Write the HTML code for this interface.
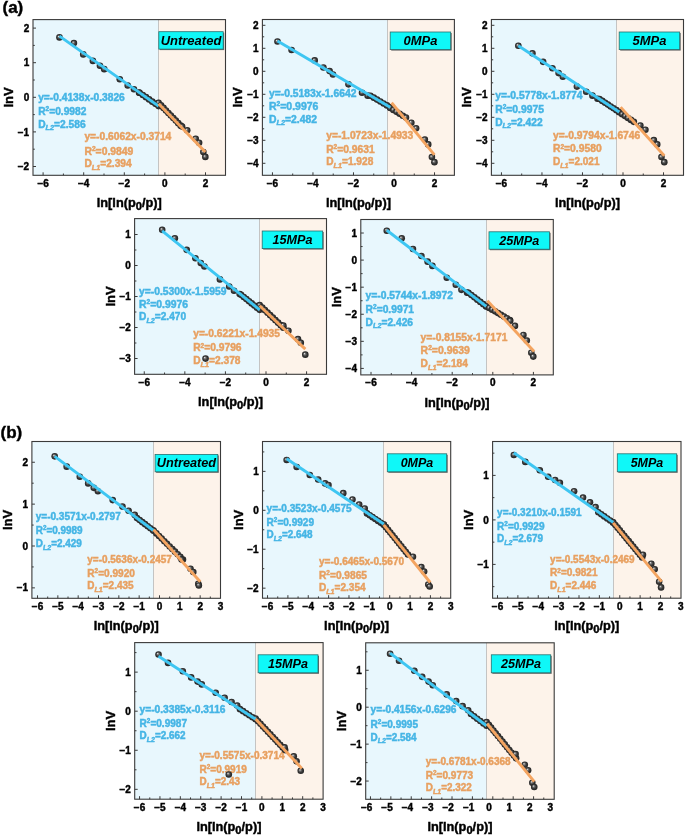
<!DOCTYPE html>
<html><head><meta charset="utf-8"><style>html,body{margin:0;padding:0;background:#fff;overflow:hidden}svg{display:block;filter:blur(0.3px)}.k{stroke:#000;stroke-width:0.42px}</style></head>
<body><svg width="685" height="836" viewBox="0 0 685 836" font-family='"Liberation Sans", sans-serif'>
<defs><radialGradient id="sph" cx="0.5" cy="0.5" r="0.5" fx="0.36" fy="0.34"><stop offset="0" stop-color="#f2f2f2"/><stop offset="0.28" stop-color="#777"/><stop offset="0.6" stop-color="#3a3a3a"/><stop offset="1" stop-color="#222"/></radialGradient></defs>
<rect width="685" height="836" fill="#fff"/>
<text x="2.5" y="13.2" font-size="17" font-weight="bold" class="k">(a)</text>
<text x="0.5" y="437.5" font-size="17" font-weight="bold" class="k">(b)</text>
<rect x="33" y="19.6" width="125.50" height="155.70" fill="#e8f7fd"/>
<rect x="158.50" y="19.6" width="67.00" height="155.70" fill="#fdf3ea"/>
<line x1="158.50" y1="19.6" x2="158.50" y2="175.3" stroke="#bdbdbd" stroke-width="0.9"/>
<line x1="43.10" y1="175.3" x2="43.10" y2="172.3" stroke="#3a3a3a" stroke-width="1"/>
<line x1="83.70" y1="175.3" x2="83.70" y2="172.3" stroke="#3a3a3a" stroke-width="1"/>
<line x1="124.30" y1="175.3" x2="124.30" y2="172.3" stroke="#3a3a3a" stroke-width="1"/>
<line x1="164.90" y1="175.3" x2="164.90" y2="172.3" stroke="#3a3a3a" stroke-width="1"/>
<line x1="205.50" y1="175.3" x2="205.50" y2="172.3" stroke="#3a3a3a" stroke-width="1"/>
<text x="43.10" y="186.80" text-anchor="middle" font-size="10" font-weight="bold" class="k">−6</text>
<text x="83.70" y="186.80" text-anchor="middle" font-size="10" font-weight="bold" class="k">−4</text>
<text x="124.30" y="186.80" text-anchor="middle" font-size="10" font-weight="bold" class="k">−2</text>
<text x="164.90" y="186.80" text-anchor="middle" font-size="10" font-weight="bold" class="k">0</text>
<text x="205.50" y="186.80" text-anchor="middle" font-size="10" font-weight="bold" class="k">2</text>
<line x1="63.40" y1="175.3" x2="63.40" y2="173.5" stroke="#3a3a3a" stroke-width="1"/>
<line x1="104.00" y1="175.3" x2="104.00" y2="173.5" stroke="#3a3a3a" stroke-width="1"/>
<line x1="144.60" y1="175.3" x2="144.60" y2="173.5" stroke="#3a3a3a" stroke-width="1"/>
<line x1="185.20" y1="175.3" x2="185.20" y2="173.5" stroke="#3a3a3a" stroke-width="1"/>
<line x1="33" y1="166.50" x2="36" y2="166.50" stroke="#3a3a3a" stroke-width="1"/>
<text x="29.20" y="170.10" text-anchor="end" font-size="10" font-weight="bold" class="k">−2</text>
<line x1="33" y1="131.90" x2="36" y2="131.90" stroke="#3a3a3a" stroke-width="1"/>
<text x="29.20" y="135.50" text-anchor="end" font-size="10" font-weight="bold" class="k">−1</text>
<line x1="33" y1="97.30" x2="36" y2="97.30" stroke="#3a3a3a" stroke-width="1"/>
<text x="29.20" y="100.90" text-anchor="end" font-size="10" font-weight="bold" class="k">0</text>
<line x1="33" y1="62.70" x2="36" y2="62.70" stroke="#3a3a3a" stroke-width="1"/>
<text x="29.20" y="66.30" text-anchor="end" font-size="10" font-weight="bold" class="k">1</text>
<line x1="33" y1="28.10" x2="36" y2="28.10" stroke="#3a3a3a" stroke-width="1"/>
<text x="29.20" y="31.70" text-anchor="end" font-size="10" font-weight="bold" class="k">2</text>
<line x1="33" y1="149.20" x2="34.8" y2="149.20" stroke="#3a3a3a" stroke-width="1"/>
<line x1="33" y1="114.60" x2="34.8" y2="114.60" stroke="#3a3a3a" stroke-width="1"/>
<line x1="33" y1="80.00" x2="34.8" y2="80.00" stroke="#3a3a3a" stroke-width="1"/>
<line x1="33" y1="45.40" x2="34.8" y2="45.40" stroke="#3a3a3a" stroke-width="1"/>
<text x="38.20" y="101.30" fill="#45b5e5" stroke="#45b5e5" stroke-width="0.45" font-size="10.1" font-weight="bold" textLength="86.6" lengthAdjust="spacingAndGlyphs">y=-0.4138x-0.3826</text>
<text x="38.20" y="115.00" fill="#45b5e5" stroke="#45b5e5" stroke-width="0.45" font-size="10.1" font-weight="bold" textLength="48.2" lengthAdjust="spacingAndGlyphs">R<tspan dy="-3.9" font-size="6.4">2</tspan><tspan dy="3.9">=0.9982</tspan></text>
<text x="38.20" y="127.80" fill="#45b5e5" stroke="#45b5e5" stroke-width="0.45" font-size="10.1" font-weight="bold" textLength="47.5" lengthAdjust="spacingAndGlyphs">D<tspan dy="2.6" font-size="7.2" font-style="italic">L2</tspan><tspan dy="-2.6">=2.586</tspan></text>
<text x="84.40" y="140.40" fill="#e8a060" stroke="#e8a060" stroke-width="0.45" font-size="10.1" font-weight="bold" textLength="86.9" lengthAdjust="spacingAndGlyphs">y=-0.6062x-0.3714</text>
<text x="84.40" y="154.50" fill="#e8a060" stroke="#e8a060" stroke-width="0.45" font-size="10.1" font-weight="bold" textLength="49.0" lengthAdjust="spacingAndGlyphs">R<tspan dy="-3.9" font-size="6.4">2</tspan><tspan dy="3.9">=0.9849</tspan></text>
<text x="84.40" y="167.30" fill="#e8a060" stroke="#e8a060" stroke-width="0.45" font-size="10.1" font-weight="bold" textLength="47.3" lengthAdjust="spacingAndGlyphs">D<tspan dy="2.6" font-size="7.2" font-style="italic">L1</tspan><tspan dy="-2.6">=2.394</tspan></text>
<circle cx="59.47" cy="37.41" r="3.3" fill="url(#sph)"/>
<circle cx="73.92" cy="43.07" r="3.3" fill="url(#sph)"/>
<circle cx="83.26" cy="54.40" r="3.3" fill="url(#sph)"/>
<circle cx="92.89" cy="60.92" r="3.3" fill="url(#sph)"/>
<circle cx="99.97" cy="65.73" r="3.3" fill="url(#sph)"/>
<circle cx="104.22" cy="69.13" r="3.3" fill="url(#sph)"/>
<circle cx="119.80" cy="79.32" r="3.3" fill="url(#sph)"/>
<circle cx="127.73" cy="85.55" r="3.3" fill="url(#sph)"/>
<circle cx="133.96" cy="89.24" r="3.3" fill="url(#sph)"/>
<circle cx="139.05" cy="92.64" r="3.3" fill="url(#sph)"/>
<circle cx="139.62" cy="92.71" r="3.3" fill="url(#sph)"/>
<circle cx="142.78" cy="94.94" r="3.3" fill="url(#sph)"/>
<circle cx="145.95" cy="97.17" r="3.3" fill="url(#sph)"/>
<circle cx="149.11" cy="99.40" r="3.3" fill="url(#sph)"/>
<circle cx="152.27" cy="101.63" r="3.3" fill="url(#sph)"/>
<circle cx="155.43" cy="103.86" r="3.3" fill="url(#sph)"/>
<circle cx="158.60" cy="106.09" r="3.3" fill="url(#sph)"/>
<circle cx="158.60" cy="102.84" r="3.3" fill="url(#sph)"/>
<circle cx="161.05" cy="105.37" r="3.3" fill="url(#sph)"/>
<circle cx="163.50" cy="107.91" r="3.3" fill="url(#sph)"/>
<circle cx="165.96" cy="110.44" r="3.3" fill="url(#sph)"/>
<circle cx="168.41" cy="112.98" r="3.3" fill="url(#sph)"/>
<circle cx="170.87" cy="115.52" r="3.3" fill="url(#sph)"/>
<circle cx="173.32" cy="118.05" r="3.3" fill="url(#sph)"/>
<circle cx="175.78" cy="120.59" r="3.3" fill="url(#sph)"/>
<circle cx="178.23" cy="123.13" r="3.3" fill="url(#sph)"/>
<circle cx="180.69" cy="125.66" r="3.3" fill="url(#sph)"/>
<circle cx="182.10" cy="126.62" r="3.3" fill="url(#sph)"/>
<circle cx="187.20" cy="130.30" r="3.3" fill="url(#sph)"/>
<circle cx="195.70" cy="138.80" r="3.3" fill="url(#sph)"/>
<circle cx="199.09" cy="142.76" r="3.3" fill="url(#sph)"/>
<circle cx="203.34" cy="152.11" r="3.3" fill="url(#sph)"/>
<circle cx="205.33" cy="156.92" r="3.3" fill="url(#sph)"/>
<line x1="59.47" y1="36.18" x2="158.60" y2="106.09" stroke="#3ec6f2" stroke-width="2.9"/>
<line x1="158.60" y1="103.64" x2="205.33" y2="151.92" stroke="#f4a460" stroke-width="2.9"/>
<rect x="159.80" y="32.70" width="64.40" height="17.40" fill="#666"/>
<rect x="158.80" y="31.70" width="64.40" height="17.40" fill="#0ff8f8" stroke="#2a6f6f" stroke-width="0.8"/>
<text x="191.00" y="44.60" text-anchor="middle" font-size="12" font-weight="bold" font-style="italic" textLength="60.7" lengthAdjust="spacingAndGlyphs">Untreated</text>
<rect x="33" y="19.6" width="192.50" height="155.70" fill="none" stroke="#3a3a3a" stroke-width="1.1"/>
<text transform="translate(13.00,97.45) rotate(-90)" text-anchor="middle" font-size="13" font-weight="bold" class="k">lnV</text>
<text x="129.25" y="207.10" text-anchor="middle" font-size="12" font-weight="bold" class="k" textLength="65" lengthAdjust="spacingAndGlyphs">ln[ln(p<tspan dy="3.0" font-size="10.5">0</tspan><tspan dy="-3.0">/p)]</tspan></text>
<rect x="262.4" y="19.5" width="125.10" height="155.80" fill="#e8f7fd"/>
<rect x="387.50" y="19.5" width="66.90" height="155.80" fill="#fdf3ea"/>
<line x1="387.50" y1="19.5" x2="387.50" y2="175.3" stroke="#bdbdbd" stroke-width="0.9"/>
<line x1="272.44" y1="175.3" x2="272.44" y2="172.3" stroke="#3a3a3a" stroke-width="1"/>
<line x1="312.96" y1="175.3" x2="312.96" y2="172.3" stroke="#3a3a3a" stroke-width="1"/>
<line x1="353.48" y1="175.3" x2="353.48" y2="172.3" stroke="#3a3a3a" stroke-width="1"/>
<line x1="394.00" y1="175.3" x2="394.00" y2="172.3" stroke="#3a3a3a" stroke-width="1"/>
<line x1="434.52" y1="175.3" x2="434.52" y2="172.3" stroke="#3a3a3a" stroke-width="1"/>
<text x="272.44" y="186.80" text-anchor="middle" font-size="10" font-weight="bold" class="k">−6</text>
<text x="312.96" y="186.80" text-anchor="middle" font-size="10" font-weight="bold" class="k">−4</text>
<text x="353.48" y="186.80" text-anchor="middle" font-size="10" font-weight="bold" class="k">−2</text>
<text x="394.00" y="186.80" text-anchor="middle" font-size="10" font-weight="bold" class="k">0</text>
<text x="434.52" y="186.80" text-anchor="middle" font-size="10" font-weight="bold" class="k">2</text>
<line x1="292.70" y1="175.3" x2="292.70" y2="173.5" stroke="#3a3a3a" stroke-width="1"/>
<line x1="333.22" y1="175.3" x2="333.22" y2="173.5" stroke="#3a3a3a" stroke-width="1"/>
<line x1="373.74" y1="175.3" x2="373.74" y2="173.5" stroke="#3a3a3a" stroke-width="1"/>
<line x1="414.26" y1="175.3" x2="414.26" y2="173.5" stroke="#3a3a3a" stroke-width="1"/>
<line x1="262.4" y1="163.30" x2="265.4" y2="163.30" stroke="#3a3a3a" stroke-width="1"/>
<text x="258.60" y="166.90" text-anchor="end" font-size="10" font-weight="bold" class="k">−4</text>
<line x1="262.4" y1="140.30" x2="265.4" y2="140.30" stroke="#3a3a3a" stroke-width="1"/>
<text x="258.60" y="143.90" text-anchor="end" font-size="10" font-weight="bold" class="k">−3</text>
<line x1="262.4" y1="117.30" x2="265.4" y2="117.30" stroke="#3a3a3a" stroke-width="1"/>
<text x="258.60" y="120.90" text-anchor="end" font-size="10" font-weight="bold" class="k">−2</text>
<line x1="262.4" y1="94.30" x2="265.4" y2="94.30" stroke="#3a3a3a" stroke-width="1"/>
<text x="258.60" y="97.90" text-anchor="end" font-size="10" font-weight="bold" class="k">−1</text>
<line x1="262.4" y1="71.30" x2="265.4" y2="71.30" stroke="#3a3a3a" stroke-width="1"/>
<text x="258.60" y="74.90" text-anchor="end" font-size="10" font-weight="bold" class="k">0</text>
<line x1="262.4" y1="48.30" x2="265.4" y2="48.30" stroke="#3a3a3a" stroke-width="1"/>
<text x="258.60" y="51.90" text-anchor="end" font-size="10" font-weight="bold" class="k">1</text>
<line x1="262.4" y1="25.30" x2="265.4" y2="25.30" stroke="#3a3a3a" stroke-width="1"/>
<text x="258.60" y="28.90" text-anchor="end" font-size="10" font-weight="bold" class="k">2</text>
<line x1="262.4" y1="151.80" x2="264.2" y2="151.80" stroke="#3a3a3a" stroke-width="1"/>
<line x1="262.4" y1="128.80" x2="264.2" y2="128.80" stroke="#3a3a3a" stroke-width="1"/>
<line x1="262.4" y1="105.80" x2="264.2" y2="105.80" stroke="#3a3a3a" stroke-width="1"/>
<line x1="262.4" y1="82.80" x2="264.2" y2="82.80" stroke="#3a3a3a" stroke-width="1"/>
<line x1="262.4" y1="59.80" x2="264.2" y2="59.80" stroke="#3a3a3a" stroke-width="1"/>
<line x1="262.4" y1="36.80" x2="264.2" y2="36.80" stroke="#3a3a3a" stroke-width="1"/>
<text x="269.00" y="96.60" fill="#45b5e5" stroke="#45b5e5" stroke-width="0.45" font-size="10.1" font-weight="bold" textLength="87.4" lengthAdjust="spacingAndGlyphs">y=-0.5183x-1.6642</text>
<text x="269.00" y="110.20" fill="#45b5e5" stroke="#45b5e5" stroke-width="0.45" font-size="10.1" font-weight="bold" textLength="49.4" lengthAdjust="spacingAndGlyphs">R<tspan dy="-3.9" font-size="6.4">2</tspan><tspan dy="3.9">=0.9976</tspan></text>
<text x="269.00" y="122.80" fill="#45b5e5" stroke="#45b5e5" stroke-width="0.45" font-size="10.1" font-weight="bold" textLength="48.0" lengthAdjust="spacingAndGlyphs">D<tspan dy="2.6" font-size="7.2" font-style="italic">L2</tspan><tspan dy="-2.6">=2.482</tspan></text>
<text x="326.20" y="138.90" fill="#e8a060" stroke="#e8a060" stroke-width="0.45" font-size="10.1" font-weight="bold" textLength="87.1" lengthAdjust="spacingAndGlyphs">y=-1.0723x-1.4933</text>
<text x="326.20" y="153.00" fill="#e8a060" stroke="#e8a060" stroke-width="0.45" font-size="10.1" font-weight="bold" textLength="48.5" lengthAdjust="spacingAndGlyphs">R<tspan dy="-3.9" font-size="6.4">2</tspan><tspan dy="3.9">=0.9631</tspan></text>
<text x="326.20" y="165.10" fill="#e8a060" stroke="#e8a060" stroke-width="0.45" font-size="10.1" font-weight="bold" textLength="47.1" lengthAdjust="spacingAndGlyphs">D<tspan dy="2.6" font-size="7.2" font-style="italic">L1</tspan><tspan dy="-2.6">=1.928</tspan></text>
<circle cx="277.50" cy="41.54" r="3.3" fill="url(#sph)"/>
<circle cx="291.58" cy="49.99" r="3.3" fill="url(#sph)"/>
<circle cx="314.69" cy="60.42" r="3.3" fill="url(#sph)"/>
<circle cx="323.42" cy="67.46" r="3.3" fill="url(#sph)"/>
<circle cx="329.62" cy="71.12" r="3.3" fill="url(#sph)"/>
<circle cx="333.00" cy="74.51" r="3.3" fill="url(#sph)"/>
<circle cx="348.50" cy="84.37" r="3.3" fill="url(#sph)"/>
<circle cx="362.02" cy="92.82" r="3.3" fill="url(#sph)"/>
<circle cx="367.66" cy="95.64" r="3.3" fill="url(#sph)"/>
<circle cx="370.47" cy="95.73" r="3.3" fill="url(#sph)"/>
<circle cx="373.76" cy="97.67" r="3.3" fill="url(#sph)"/>
<circle cx="377.05" cy="99.60" r="3.3" fill="url(#sph)"/>
<circle cx="380.34" cy="101.54" r="3.3" fill="url(#sph)"/>
<circle cx="383.62" cy="103.47" r="3.3" fill="url(#sph)"/>
<circle cx="386.91" cy="105.40" r="3.3" fill="url(#sph)"/>
<circle cx="390.20" cy="107.34" r="3.3" fill="url(#sph)"/>
<circle cx="390.20" cy="108.03" r="3.3" fill="url(#sph)"/>
<circle cx="393.35" cy="109.95" r="3.3" fill="url(#sph)"/>
<circle cx="396.51" cy="111.87" r="3.3" fill="url(#sph)"/>
<circle cx="399.66" cy="113.78" r="3.3" fill="url(#sph)"/>
<circle cx="402.82" cy="115.70" r="3.3" fill="url(#sph)"/>
<circle cx="405.98" cy="117.61" r="3.3" fill="url(#sph)"/>
<circle cx="411.33" cy="122.68" r="3.3" fill="url(#sph)"/>
<circle cx="416.12" cy="128.32" r="3.3" fill="url(#sph)"/>
<circle cx="424.85" cy="139.59" r="3.3" fill="url(#sph)"/>
<circle cx="428.23" cy="144.38" r="3.3" fill="url(#sph)"/>
<circle cx="431.90" cy="157.06" r="3.3" fill="url(#sph)"/>
<circle cx="434.43" cy="162.13" r="3.3" fill="url(#sph)"/>
<line x1="277.50" y1="41.03" x2="390.20" y2="107.34" stroke="#3ec6f2" stroke-width="2.9"/>
<line x1="391.61" y1="102.73" x2="434.43" y2="154.86" stroke="#f4a460" stroke-width="2.9"/>
<rect x="391.20" y="33.00" width="60.50" height="17.60" fill="#666"/>
<rect x="390.20" y="32.00" width="60.50" height="17.60" fill="#0ff8f8" stroke="#2a6f6f" stroke-width="0.8"/>
<text x="420.45" y="45.00" text-anchor="middle" font-size="12" font-weight="bold" font-style="italic" textLength="33.8" lengthAdjust="spacingAndGlyphs">0MPa</text>
<rect x="262.4" y="19.5" width="192.00" height="155.80" fill="none" stroke="#3a3a3a" stroke-width="1.1"/>
<text transform="translate(242.40,97.40) rotate(-90)" text-anchor="middle" font-size="13" font-weight="bold" class="k">lnV</text>
<text x="358.40" y="207.10" text-anchor="middle" font-size="12" font-weight="bold" class="k" textLength="65" lengthAdjust="spacingAndGlyphs">ln[ln(p<tspan dy="3.0" font-size="10.5">0</tspan><tspan dy="-3.0">/p)]</tspan></text>
<rect x="491.4" y="19.5" width="125.10" height="155.80" fill="#e8f7fd"/>
<rect x="616.50" y="19.5" width="67.00" height="155.80" fill="#fdf3ea"/>
<line x1="616.50" y1="19.5" x2="616.50" y2="175.3" stroke="#bdbdbd" stroke-width="0.9"/>
<line x1="501.44" y1="175.3" x2="501.44" y2="172.3" stroke="#3a3a3a" stroke-width="1"/>
<line x1="541.96" y1="175.3" x2="541.96" y2="172.3" stroke="#3a3a3a" stroke-width="1"/>
<line x1="582.48" y1="175.3" x2="582.48" y2="172.3" stroke="#3a3a3a" stroke-width="1"/>
<line x1="623.00" y1="175.3" x2="623.00" y2="172.3" stroke="#3a3a3a" stroke-width="1"/>
<line x1="663.52" y1="175.3" x2="663.52" y2="172.3" stroke="#3a3a3a" stroke-width="1"/>
<text x="501.44" y="186.80" text-anchor="middle" font-size="10" font-weight="bold" class="k">−6</text>
<text x="541.96" y="186.80" text-anchor="middle" font-size="10" font-weight="bold" class="k">−4</text>
<text x="582.48" y="186.80" text-anchor="middle" font-size="10" font-weight="bold" class="k">−2</text>
<text x="623.00" y="186.80" text-anchor="middle" font-size="10" font-weight="bold" class="k">0</text>
<text x="663.52" y="186.80" text-anchor="middle" font-size="10" font-weight="bold" class="k">2</text>
<line x1="521.70" y1="175.3" x2="521.70" y2="173.5" stroke="#3a3a3a" stroke-width="1"/>
<line x1="562.22" y1="175.3" x2="562.22" y2="173.5" stroke="#3a3a3a" stroke-width="1"/>
<line x1="602.74" y1="175.3" x2="602.74" y2="173.5" stroke="#3a3a3a" stroke-width="1"/>
<line x1="643.26" y1="175.3" x2="643.26" y2="173.5" stroke="#3a3a3a" stroke-width="1"/>
<line x1="491.4" y1="163.30" x2="494.4" y2="163.30" stroke="#3a3a3a" stroke-width="1"/>
<text x="487.60" y="166.90" text-anchor="end" font-size="10" font-weight="bold" class="k">−4</text>
<line x1="491.4" y1="140.30" x2="494.4" y2="140.30" stroke="#3a3a3a" stroke-width="1"/>
<text x="487.60" y="143.90" text-anchor="end" font-size="10" font-weight="bold" class="k">−3</text>
<line x1="491.4" y1="117.30" x2="494.4" y2="117.30" stroke="#3a3a3a" stroke-width="1"/>
<text x="487.60" y="120.90" text-anchor="end" font-size="10" font-weight="bold" class="k">−2</text>
<line x1="491.4" y1="94.30" x2="494.4" y2="94.30" stroke="#3a3a3a" stroke-width="1"/>
<text x="487.60" y="97.90" text-anchor="end" font-size="10" font-weight="bold" class="k">−1</text>
<line x1="491.4" y1="71.30" x2="494.4" y2="71.30" stroke="#3a3a3a" stroke-width="1"/>
<text x="487.60" y="74.90" text-anchor="end" font-size="10" font-weight="bold" class="k">0</text>
<line x1="491.4" y1="48.30" x2="494.4" y2="48.30" stroke="#3a3a3a" stroke-width="1"/>
<text x="487.60" y="51.90" text-anchor="end" font-size="10" font-weight="bold" class="k">1</text>
<line x1="491.4" y1="25.30" x2="494.4" y2="25.30" stroke="#3a3a3a" stroke-width="1"/>
<text x="487.60" y="28.90" text-anchor="end" font-size="10" font-weight="bold" class="k">2</text>
<line x1="491.4" y1="151.80" x2="493.2" y2="151.80" stroke="#3a3a3a" stroke-width="1"/>
<line x1="491.4" y1="128.80" x2="493.2" y2="128.80" stroke="#3a3a3a" stroke-width="1"/>
<line x1="491.4" y1="105.80" x2="493.2" y2="105.80" stroke="#3a3a3a" stroke-width="1"/>
<line x1="491.4" y1="82.80" x2="493.2" y2="82.80" stroke="#3a3a3a" stroke-width="1"/>
<line x1="491.4" y1="59.80" x2="493.2" y2="59.80" stroke="#3a3a3a" stroke-width="1"/>
<line x1="491.4" y1="36.80" x2="493.2" y2="36.80" stroke="#3a3a3a" stroke-width="1"/>
<text x="495.20" y="98.90" fill="#45b5e5" stroke="#45b5e5" stroke-width="0.45" font-size="10.1" font-weight="bold" textLength="87.4" lengthAdjust="spacingAndGlyphs">y=-0.5778x-1.8774</text>
<text x="495.20" y="113.00" fill="#45b5e5" stroke="#45b5e5" stroke-width="0.45" font-size="10.1" font-weight="bold" textLength="48.8" lengthAdjust="spacingAndGlyphs">R<tspan dy="-3.9" font-size="6.4">2</tspan><tspan dy="3.9">=0.9975</tspan></text>
<text x="495.20" y="125.70" fill="#45b5e5" stroke="#45b5e5" stroke-width="0.45" font-size="10.1" font-weight="bold" textLength="47.4" lengthAdjust="spacingAndGlyphs">D<tspan dy="2.6" font-size="7.2" font-style="italic">L2</tspan><tspan dy="-2.6">=2.422</tspan></text>
<text x="553.00" y="138.90" fill="#e8a060" stroke="#e8a060" stroke-width="0.45" font-size="10.1" font-weight="bold" textLength="87.3" lengthAdjust="spacingAndGlyphs">y=-0.9794x-1.6746</text>
<text x="553.00" y="152.40" fill="#e8a060" stroke="#e8a060" stroke-width="0.45" font-size="10.1" font-weight="bold" textLength="48.7" lengthAdjust="spacingAndGlyphs">R<tspan dy="-3.9" font-size="6.4">2</tspan><tspan dy="3.9">=0.9580</tspan></text>
<text x="553.00" y="165.10" fill="#e8a060" stroke="#e8a060" stroke-width="0.45" font-size="10.1" font-weight="bold" textLength="46.5" lengthAdjust="spacingAndGlyphs">D<tspan dy="2.6" font-size="7.2" font-style="italic">L1</tspan><tspan dy="-2.6">=2.021</tspan></text>
<circle cx="518.33" cy="45.77" r="3.3" fill="url(#sph)"/>
<circle cx="532.42" cy="53.37" r="3.3" fill="url(#sph)"/>
<circle cx="543.12" cy="61.83" r="3.3" fill="url(#sph)"/>
<circle cx="552.42" cy="68.31" r="3.3" fill="url(#sph)"/>
<circle cx="558.62" cy="73.10" r="3.3" fill="url(#sph)"/>
<circle cx="562.85" cy="76.76" r="3.3" fill="url(#sph)"/>
<circle cx="576.93" cy="86.62" r="3.3" fill="url(#sph)"/>
<circle cx="586.23" cy="91.69" r="3.3" fill="url(#sph)"/>
<circle cx="592.43" cy="95.64" r="3.3" fill="url(#sph)"/>
<circle cx="597.50" cy="98.74" r="3.3" fill="url(#sph)"/>
<circle cx="599.47" cy="99.05" r="3.3" fill="url(#sph)"/>
<circle cx="602.29" cy="100.90" r="3.3" fill="url(#sph)"/>
<circle cx="605.11" cy="102.75" r="3.3" fill="url(#sph)"/>
<circle cx="607.93" cy="104.59" r="3.3" fill="url(#sph)"/>
<circle cx="610.74" cy="106.44" r="3.3" fill="url(#sph)"/>
<circle cx="613.56" cy="108.29" r="3.3" fill="url(#sph)"/>
<circle cx="616.38" cy="110.14" r="3.3" fill="url(#sph)"/>
<circle cx="619.20" cy="111.99" r="3.3" fill="url(#sph)"/>
<circle cx="619.20" cy="112.26" r="3.3" fill="url(#sph)"/>
<circle cx="622.13" cy="114.18" r="3.3" fill="url(#sph)"/>
<circle cx="625.06" cy="116.09" r="3.3" fill="url(#sph)"/>
<circle cx="627.99" cy="118.01" r="3.3" fill="url(#sph)"/>
<circle cx="630.92" cy="119.92" r="3.3" fill="url(#sph)"/>
<circle cx="633.85" cy="121.84" r="3.3" fill="url(#sph)"/>
<circle cx="640.33" cy="125.50" r="3.3" fill="url(#sph)"/>
<circle cx="645.40" cy="129.73" r="3.3" fill="url(#sph)"/>
<circle cx="653.85" cy="140.15" r="3.3" fill="url(#sph)"/>
<circle cx="657.23" cy="144.38" r="3.3" fill="url(#sph)"/>
<circle cx="661.46" cy="157.06" r="3.3" fill="url(#sph)"/>
<circle cx="664.28" cy="162.13" r="3.3" fill="url(#sph)"/>
<line x1="518.33" y1="45.82" x2="619.20" y2="111.99" stroke="#3ec6f2" stroke-width="2.9"/>
<line x1="620.61" y1="107.15" x2="664.28" y2="155.71" stroke="#f4a460" stroke-width="2.9"/>
<rect x="620.20" y="33.00" width="60.50" height="17.60" fill="#666"/>
<rect x="619.20" y="32.00" width="60.50" height="17.60" fill="#0ff8f8" stroke="#2a6f6f" stroke-width="0.8"/>
<text x="649.45" y="45.00" text-anchor="middle" font-size="12" font-weight="bold" font-style="italic" textLength="33.8" lengthAdjust="spacingAndGlyphs">5MPa</text>
<rect x="491.4" y="19.5" width="192.10" height="155.80" fill="none" stroke="#3a3a3a" stroke-width="1.1"/>
<text transform="translate(471.40,97.40) rotate(-90)" text-anchor="middle" font-size="13" font-weight="bold" class="k">lnV</text>
<text x="587.45" y="207.10" text-anchor="middle" font-size="12" font-weight="bold" class="k" textLength="65" lengthAdjust="spacingAndGlyphs">ln[ln(p<tspan dy="3.0" font-size="10.5">0</tspan><tspan dy="-3.0">/p)]</tspan></text>
<rect x="134.6" y="218.6" width="124.90" height="155.70" fill="#e8f7fd"/>
<rect x="259.50" y="218.6" width="67.00" height="155.70" fill="#fdf3ea"/>
<line x1="259.50" y1="218.6" x2="259.50" y2="374.3" stroke="#bdbdbd" stroke-width="0.9"/>
<line x1="144.26" y1="374.3" x2="144.26" y2="371.3" stroke="#3a3a3a" stroke-width="1"/>
<line x1="184.84" y1="374.3" x2="184.84" y2="371.3" stroke="#3a3a3a" stroke-width="1"/>
<line x1="225.42" y1="374.3" x2="225.42" y2="371.3" stroke="#3a3a3a" stroke-width="1"/>
<line x1="266.00" y1="374.3" x2="266.00" y2="371.3" stroke="#3a3a3a" stroke-width="1"/>
<line x1="306.58" y1="374.3" x2="306.58" y2="371.3" stroke="#3a3a3a" stroke-width="1"/>
<text x="144.26" y="385.80" text-anchor="middle" font-size="10" font-weight="bold" class="k">−6</text>
<text x="184.84" y="385.80" text-anchor="middle" font-size="10" font-weight="bold" class="k">−4</text>
<text x="225.42" y="385.80" text-anchor="middle" font-size="10" font-weight="bold" class="k">−2</text>
<text x="266.00" y="385.80" text-anchor="middle" font-size="10" font-weight="bold" class="k">0</text>
<text x="306.58" y="385.80" text-anchor="middle" font-size="10" font-weight="bold" class="k">2</text>
<line x1="164.55" y1="374.3" x2="164.55" y2="372.5" stroke="#3a3a3a" stroke-width="1"/>
<line x1="205.13" y1="374.3" x2="205.13" y2="372.5" stroke="#3a3a3a" stroke-width="1"/>
<line x1="245.71" y1="374.3" x2="245.71" y2="372.5" stroke="#3a3a3a" stroke-width="1"/>
<line x1="286.29" y1="374.3" x2="286.29" y2="372.5" stroke="#3a3a3a" stroke-width="1"/>
<line x1="134.6" y1="358.50" x2="137.6" y2="358.50" stroke="#3a3a3a" stroke-width="1"/>
<text x="130.80" y="362.10" text-anchor="end" font-size="10" font-weight="bold" class="k">−3</text>
<line x1="134.6" y1="327.50" x2="137.6" y2="327.50" stroke="#3a3a3a" stroke-width="1"/>
<text x="130.80" y="331.10" text-anchor="end" font-size="10" font-weight="bold" class="k">−2</text>
<line x1="134.6" y1="296.50" x2="137.6" y2="296.50" stroke="#3a3a3a" stroke-width="1"/>
<text x="130.80" y="300.10" text-anchor="end" font-size="10" font-weight="bold" class="k">−1</text>
<line x1="134.6" y1="265.50" x2="137.6" y2="265.50" stroke="#3a3a3a" stroke-width="1"/>
<text x="130.80" y="269.10" text-anchor="end" font-size="10" font-weight="bold" class="k">0</text>
<line x1="134.6" y1="234.50" x2="137.6" y2="234.50" stroke="#3a3a3a" stroke-width="1"/>
<text x="130.80" y="238.10" text-anchor="end" font-size="10" font-weight="bold" class="k">1</text>
<line x1="134.6" y1="343.00" x2="136.4" y2="343.00" stroke="#3a3a3a" stroke-width="1"/>
<line x1="134.6" y1="312.00" x2="136.4" y2="312.00" stroke="#3a3a3a" stroke-width="1"/>
<line x1="134.6" y1="281.00" x2="136.4" y2="281.00" stroke="#3a3a3a" stroke-width="1"/>
<line x1="134.6" y1="250.00" x2="136.4" y2="250.00" stroke="#3a3a3a" stroke-width="1"/>
<text x="139.10" y="294.50" fill="#45b5e5" stroke="#45b5e5" stroke-width="0.45" font-size="10.1" font-weight="bold" textLength="87.3" lengthAdjust="spacingAndGlyphs">y=-0.5300x-1.5959</text>
<text x="139.10" y="307.80" fill="#45b5e5" stroke="#45b5e5" stroke-width="0.45" font-size="10.1" font-weight="bold" textLength="49.0" lengthAdjust="spacingAndGlyphs">R<tspan dy="-3.9" font-size="6.4">2</tspan><tspan dy="3.9">=0.9976</tspan></text>
<text x="139.10" y="320.40" fill="#45b5e5" stroke="#45b5e5" stroke-width="0.45" font-size="10.1" font-weight="bold" textLength="47.0" lengthAdjust="spacingAndGlyphs">D<tspan dy="2.6" font-size="7.2" font-style="italic">L2</tspan><tspan dy="-2.6">=2.470</tspan></text>
<text x="193.20" y="337.30" fill="#e8a060" stroke="#e8a060" stroke-width="0.45" font-size="10.1" font-weight="bold" textLength="86.8" lengthAdjust="spacingAndGlyphs">y=-0.6221x-1.4935</text>
<text x="193.20" y="351.40" fill="#e8a060" stroke="#e8a060" stroke-width="0.45" font-size="10.1" font-weight="bold" textLength="48.4" lengthAdjust="spacingAndGlyphs">R<tspan dy="-3.9" font-size="6.4">2</tspan><tspan dy="3.9">=0.9796</tspan></text>
<text x="193.20" y="364.10" fill="#e8a060" stroke="#e8a060" stroke-width="0.45" font-size="10.1" font-weight="bold" textLength="47.3" lengthAdjust="spacingAndGlyphs">D<tspan dy="2.6" font-size="7.2" font-style="italic">L1</tspan><tspan dy="-2.6">=2.378</tspan></text>
<circle cx="162.18" cy="229.83" r="3.3" fill="url(#sph)"/>
<circle cx="174.85" cy="238.29" r="3.3" fill="url(#sph)"/>
<circle cx="186.69" cy="249.84" r="3.3" fill="url(#sph)"/>
<circle cx="195.42" cy="258.29" r="3.3" fill="url(#sph)"/>
<circle cx="200.78" cy="263.08" r="3.3" fill="url(#sph)"/>
<circle cx="204.44" cy="266.46" r="3.3" fill="url(#sph)"/>
<circle cx="219.93" cy="279.42" r="3.3" fill="url(#sph)"/>
<circle cx="229.23" cy="286.47" r="3.3" fill="url(#sph)"/>
<circle cx="234.02" cy="290.69" r="3.3" fill="url(#sph)"/>
<circle cx="239.66" cy="294.07" r="3.3" fill="url(#sph)"/>
<circle cx="241.07" cy="294.78" r="3.3" fill="url(#sph)"/>
<circle cx="243.72" cy="296.93" r="3.3" fill="url(#sph)"/>
<circle cx="246.38" cy="299.08" r="3.3" fill="url(#sph)"/>
<circle cx="249.04" cy="301.24" r="3.3" fill="url(#sph)"/>
<circle cx="251.69" cy="303.39" r="3.3" fill="url(#sph)"/>
<circle cx="254.35" cy="305.54" r="3.3" fill="url(#sph)"/>
<circle cx="257.00" cy="307.69" r="3.3" fill="url(#sph)"/>
<circle cx="259.66" cy="309.84" r="3.3" fill="url(#sph)"/>
<circle cx="259.66" cy="305.17" r="3.3" fill="url(#sph)"/>
<circle cx="262.29" cy="307.67" r="3.3" fill="url(#sph)"/>
<circle cx="264.92" cy="310.17" r="3.3" fill="url(#sph)"/>
<circle cx="267.55" cy="312.67" r="3.3" fill="url(#sph)"/>
<circle cx="270.18" cy="315.17" r="3.3" fill="url(#sph)"/>
<circle cx="272.81" cy="317.67" r="3.3" fill="url(#sph)"/>
<circle cx="275.44" cy="320.17" r="3.3" fill="url(#sph)"/>
<circle cx="278.07" cy="322.67" r="3.3" fill="url(#sph)"/>
<circle cx="280.70" cy="325.17" r="3.3" fill="url(#sph)"/>
<circle cx="283.33" cy="327.67" r="3.3" fill="url(#sph)"/>
<circle cx="283.33" cy="325.63" r="3.3" fill="url(#sph)"/>
<circle cx="288.40" cy="330.70" r="3.3" fill="url(#sph)"/>
<circle cx="297.98" cy="339.15" r="3.3" fill="url(#sph)"/>
<circle cx="300.80" cy="342.82" r="3.3" fill="url(#sph)"/>
<circle cx="305.31" cy="354.65" r="3.3" fill="url(#sph)"/>
<circle cx="205.56" cy="358.59" r="3.3" fill="url(#sph)"/>
<line x1="162.18" y1="230.90" x2="259.66" y2="309.84" stroke="#3ec6f2" stroke-width="2.9"/>
<line x1="259.66" y1="305.77" x2="305.31" y2="349.16" stroke="#f4a460" stroke-width="2.9"/>
<rect x="263.20" y="232.00" width="60.50" height="17.60" fill="#666"/>
<rect x="262.20" y="231.00" width="60.50" height="17.60" fill="#0ff8f8" stroke="#2a6f6f" stroke-width="0.8"/>
<text x="292.45" y="244.00" text-anchor="middle" font-size="12" font-weight="bold" font-style="italic" textLength="40.0" lengthAdjust="spacingAndGlyphs">15MPa</text>
<rect x="134.6" y="218.6" width="191.90" height="155.70" fill="none" stroke="#3a3a3a" stroke-width="1.1"/>
<text transform="translate(114.60,296.45) rotate(-90)" text-anchor="middle" font-size="13" font-weight="bold" class="k">lnV</text>
<text x="230.55" y="406.10" text-anchor="middle" font-size="12" font-weight="bold" class="k" textLength="65" lengthAdjust="spacingAndGlyphs">ln[ln(p<tspan dy="3.0" font-size="10.5">0</tspan><tspan dy="-3.0">/p)]</tspan></text>
<rect x="360.8" y="219.5" width="125.70" height="155.40" fill="#e8f7fd"/>
<rect x="486.50" y="219.5" width="66.80" height="155.40" fill="#fdf3ea"/>
<line x1="486.50" y1="219.5" x2="486.50" y2="374.9" stroke="#bdbdbd" stroke-width="0.9"/>
<line x1="371.00" y1="374.9" x2="371.00" y2="371.9" stroke="#3a3a3a" stroke-width="1"/>
<line x1="411.60" y1="374.9" x2="411.60" y2="371.9" stroke="#3a3a3a" stroke-width="1"/>
<line x1="452.20" y1="374.9" x2="452.20" y2="371.9" stroke="#3a3a3a" stroke-width="1"/>
<line x1="492.80" y1="374.9" x2="492.80" y2="371.9" stroke="#3a3a3a" stroke-width="1"/>
<line x1="533.40" y1="374.9" x2="533.40" y2="371.9" stroke="#3a3a3a" stroke-width="1"/>
<text x="371.00" y="386.40" text-anchor="middle" font-size="10" font-weight="bold" class="k">−6</text>
<text x="411.60" y="386.40" text-anchor="middle" font-size="10" font-weight="bold" class="k">−4</text>
<text x="452.20" y="386.40" text-anchor="middle" font-size="10" font-weight="bold" class="k">−2</text>
<text x="492.80" y="386.40" text-anchor="middle" font-size="10" font-weight="bold" class="k">0</text>
<text x="533.40" y="386.40" text-anchor="middle" font-size="10" font-weight="bold" class="k">2</text>
<line x1="391.30" y1="374.9" x2="391.30" y2="373.09999999999997" stroke="#3a3a3a" stroke-width="1"/>
<line x1="431.90" y1="374.9" x2="431.90" y2="373.09999999999997" stroke="#3a3a3a" stroke-width="1"/>
<line x1="472.50" y1="374.9" x2="472.50" y2="373.09999999999997" stroke="#3a3a3a" stroke-width="1"/>
<line x1="513.10" y1="374.9" x2="513.10" y2="373.09999999999997" stroke="#3a3a3a" stroke-width="1"/>
<line x1="360.8" y1="368.42" x2="363.8" y2="368.42" stroke="#3a3a3a" stroke-width="1"/>
<text x="357.00" y="372.02" text-anchor="end" font-size="10" font-weight="bold" class="k">−4</text>
<line x1="360.8" y1="341.34" x2="363.8" y2="341.34" stroke="#3a3a3a" stroke-width="1"/>
<text x="357.00" y="344.94" text-anchor="end" font-size="10" font-weight="bold" class="k">−3</text>
<line x1="360.8" y1="314.26" x2="363.8" y2="314.26" stroke="#3a3a3a" stroke-width="1"/>
<text x="357.00" y="317.86" text-anchor="end" font-size="10" font-weight="bold" class="k">−2</text>
<line x1="360.8" y1="287.18" x2="363.8" y2="287.18" stroke="#3a3a3a" stroke-width="1"/>
<text x="357.00" y="290.78" text-anchor="end" font-size="10" font-weight="bold" class="k">−1</text>
<line x1="360.8" y1="260.10" x2="363.8" y2="260.10" stroke="#3a3a3a" stroke-width="1"/>
<text x="357.00" y="263.70" text-anchor="end" font-size="10" font-weight="bold" class="k">0</text>
<line x1="360.8" y1="233.02" x2="363.8" y2="233.02" stroke="#3a3a3a" stroke-width="1"/>
<text x="357.00" y="236.62" text-anchor="end" font-size="10" font-weight="bold" class="k">1</text>
<line x1="360.8" y1="354.88" x2="362.6" y2="354.88" stroke="#3a3a3a" stroke-width="1"/>
<line x1="360.8" y1="327.80" x2="362.6" y2="327.80" stroke="#3a3a3a" stroke-width="1"/>
<line x1="360.8" y1="300.72" x2="362.6" y2="300.72" stroke="#3a3a3a" stroke-width="1"/>
<line x1="360.8" y1="273.64" x2="362.6" y2="273.64" stroke="#3a3a3a" stroke-width="1"/>
<line x1="360.8" y1="246.56" x2="362.6" y2="246.56" stroke="#3a3a3a" stroke-width="1"/>
<text x="365.60" y="299.30" fill="#45b5e5" stroke="#45b5e5" stroke-width="0.45" font-size="10.1" font-weight="bold" textLength="87.4" lengthAdjust="spacingAndGlyphs">y=-0.5744x-1.8972</text>
<text x="365.60" y="312.80" fill="#45b5e5" stroke="#45b5e5" stroke-width="0.45" font-size="10.1" font-weight="bold" textLength="48.5" lengthAdjust="spacingAndGlyphs">R<tspan dy="-3.9" font-size="6.4">2</tspan><tspan dy="3.9">=0.9971</tspan></text>
<text x="365.60" y="325.50" fill="#45b5e5" stroke="#45b5e5" stroke-width="0.45" font-size="10.1" font-weight="bold" textLength="47.4" lengthAdjust="spacingAndGlyphs">D<tspan dy="2.6" font-size="7.2" font-style="italic">L2</tspan><tspan dy="-2.6">=2.426</tspan></text>
<text x="420.60" y="340.70" fill="#e8a060" stroke="#e8a060" stroke-width="0.45" font-size="10.1" font-weight="bold" textLength="86.8" lengthAdjust="spacingAndGlyphs">y=-0.8155x-1.7171</text>
<text x="420.60" y="354.20" fill="#e8a060" stroke="#e8a060" stroke-width="0.45" font-size="10.1" font-weight="bold" textLength="49.3" lengthAdjust="spacingAndGlyphs">R<tspan dy="-3.9" font-size="6.4">2</tspan><tspan dy="3.9">=0.9639</tspan></text>
<text x="420.60" y="366.90" fill="#e8a060" stroke="#e8a060" stroke-width="0.45" font-size="10.1" font-weight="bold" textLength="47.3" lengthAdjust="spacingAndGlyphs">D<tspan dy="2.6" font-size="7.2" font-style="italic">L1</tspan><tspan dy="-2.6">=2.184</tspan></text>
<circle cx="386.77" cy="230.68" r="3.3" fill="url(#sph)"/>
<circle cx="401.70" cy="238.29" r="3.3" fill="url(#sph)"/>
<circle cx="412.97" cy="248.99" r="3.3" fill="url(#sph)"/>
<circle cx="421.42" cy="256.04" r="3.3" fill="url(#sph)"/>
<circle cx="427.62" cy="261.67" r="3.3" fill="url(#sph)"/>
<circle cx="432.41" cy="265.90" r="3.3" fill="url(#sph)"/>
<circle cx="446.78" cy="277.73" r="3.3" fill="url(#sph)"/>
<circle cx="455.80" cy="284.78" r="3.3" fill="url(#sph)"/>
<circle cx="461.43" cy="289.85" r="3.3" fill="url(#sph)"/>
<circle cx="467.07" cy="292.66" r="3.3" fill="url(#sph)"/>
<circle cx="468.47" cy="292.84" r="3.3" fill="url(#sph)"/>
<circle cx="471.43" cy="295.10" r="3.3" fill="url(#sph)"/>
<circle cx="474.39" cy="297.37" r="3.3" fill="url(#sph)"/>
<circle cx="477.35" cy="299.64" r="3.3" fill="url(#sph)"/>
<circle cx="480.31" cy="301.90" r="3.3" fill="url(#sph)"/>
<circle cx="483.27" cy="304.17" r="3.3" fill="url(#sph)"/>
<circle cx="486.22" cy="306.44" r="3.3" fill="url(#sph)"/>
<circle cx="486.22" cy="306.19" r="3.3" fill="url(#sph)"/>
<circle cx="489.18" cy="307.91" r="3.3" fill="url(#sph)"/>
<circle cx="492.14" cy="309.64" r="3.3" fill="url(#sph)"/>
<circle cx="495.10" cy="311.37" r="3.3" fill="url(#sph)"/>
<circle cx="498.06" cy="313.09" r="3.3" fill="url(#sph)"/>
<circle cx="501.02" cy="314.82" r="3.3" fill="url(#sph)"/>
<circle cx="503.98" cy="316.54" r="3.3" fill="url(#sph)"/>
<circle cx="506.93" cy="318.27" r="3.3" fill="url(#sph)"/>
<circle cx="509.89" cy="319.99" r="3.3" fill="url(#sph)"/>
<circle cx="510.17" cy="320.84" r="3.3" fill="url(#sph)"/>
<circle cx="514.96" cy="325.91" r="3.3" fill="url(#sph)"/>
<circle cx="523.42" cy="334.93" r="3.3" fill="url(#sph)"/>
<circle cx="526.80" cy="340.56" r="3.3" fill="url(#sph)"/>
<circle cx="531.31" cy="352.68" r="3.3" fill="url(#sph)"/>
<circle cx="533.28" cy="356.62" r="3.3" fill="url(#sph)"/>
<line x1="386.77" y1="230.23" x2="486.22" y2="306.44" stroke="#3ec6f2" stroke-width="2.9"/>
<line x1="487.35" y1="300.67" x2="534.12" y2="351.55" stroke="#f4a460" stroke-width="2.9"/>
<rect x="490.00" y="232.80" width="60.60" height="17.40" fill="#666"/>
<rect x="489.00" y="231.80" width="60.60" height="17.40" fill="#0ff8f8" stroke="#2a6f6f" stroke-width="0.8"/>
<text x="519.30" y="244.70" text-anchor="middle" font-size="12" font-weight="bold" font-style="italic" textLength="40.0" lengthAdjust="spacingAndGlyphs">25MPa</text>
<rect x="360.8" y="219.5" width="192.50" height="155.40" fill="none" stroke="#3a3a3a" stroke-width="1.1"/>
<text transform="translate(340.80,297.20) rotate(-90)" text-anchor="middle" font-size="13" font-weight="bold" class="k">lnV</text>
<text x="457.05" y="406.70" text-anchor="middle" font-size="12" font-weight="bold" class="k" textLength="65" lengthAdjust="spacingAndGlyphs">ln[ln(p<tspan dy="3.0" font-size="10.5">0</tspan><tspan dy="-3.0">/p)]</tspan></text>
<rect x="31.9" y="441.5" width="121.60" height="156.80" fill="#e8f7fd"/>
<rect x="153.50" y="441.5" width="67.00" height="156.80" fill="#fdf3ea"/>
<line x1="153.50" y1="441.5" x2="153.50" y2="598.3" stroke="#bdbdbd" stroke-width="0.9"/>
<line x1="37.52" y1="598.3" x2="37.52" y2="595.3" stroke="#3a3a3a" stroke-width="1"/>
<line x1="57.85" y1="598.3" x2="57.85" y2="595.3" stroke="#3a3a3a" stroke-width="1"/>
<line x1="78.18" y1="598.3" x2="78.18" y2="595.3" stroke="#3a3a3a" stroke-width="1"/>
<line x1="98.51" y1="598.3" x2="98.51" y2="595.3" stroke="#3a3a3a" stroke-width="1"/>
<line x1="118.84" y1="598.3" x2="118.84" y2="595.3" stroke="#3a3a3a" stroke-width="1"/>
<line x1="139.17" y1="598.3" x2="139.17" y2="595.3" stroke="#3a3a3a" stroke-width="1"/>
<line x1="159.50" y1="598.3" x2="159.50" y2="595.3" stroke="#3a3a3a" stroke-width="1"/>
<line x1="179.83" y1="598.3" x2="179.83" y2="595.3" stroke="#3a3a3a" stroke-width="1"/>
<line x1="200.16" y1="598.3" x2="200.16" y2="595.3" stroke="#3a3a3a" stroke-width="1"/>
<text x="37.52" y="609.80" text-anchor="middle" font-size="10" font-weight="bold" class="k">−6</text>
<text x="57.85" y="609.80" text-anchor="middle" font-size="10" font-weight="bold" class="k">−5</text>
<text x="78.18" y="609.80" text-anchor="middle" font-size="10" font-weight="bold" class="k">−4</text>
<text x="98.51" y="609.80" text-anchor="middle" font-size="10" font-weight="bold" class="k">−3</text>
<text x="118.84" y="609.80" text-anchor="middle" font-size="10" font-weight="bold" class="k">−2</text>
<text x="139.17" y="609.80" text-anchor="middle" font-size="10" font-weight="bold" class="k">−1</text>
<text x="159.50" y="609.80" text-anchor="middle" font-size="10" font-weight="bold" class="k">0</text>
<text x="179.83" y="609.80" text-anchor="middle" font-size="10" font-weight="bold" class="k">1</text>
<text x="200.16" y="609.80" text-anchor="middle" font-size="10" font-weight="bold" class="k">2</text>
<text x="220.49" y="609.80" text-anchor="middle" font-size="10" font-weight="bold" class="k">3</text>
<line x1="47.69" y1="598.3" x2="47.69" y2="596.5" stroke="#3a3a3a" stroke-width="1"/>
<line x1="68.02" y1="598.3" x2="68.02" y2="596.5" stroke="#3a3a3a" stroke-width="1"/>
<line x1="88.34" y1="598.3" x2="88.34" y2="596.5" stroke="#3a3a3a" stroke-width="1"/>
<line x1="108.68" y1="598.3" x2="108.68" y2="596.5" stroke="#3a3a3a" stroke-width="1"/>
<line x1="129.00" y1="598.3" x2="129.00" y2="596.5" stroke="#3a3a3a" stroke-width="1"/>
<line x1="149.34" y1="598.3" x2="149.34" y2="596.5" stroke="#3a3a3a" stroke-width="1"/>
<line x1="169.66" y1="598.3" x2="169.66" y2="596.5" stroke="#3a3a3a" stroke-width="1"/>
<line x1="190.00" y1="598.3" x2="190.00" y2="596.5" stroke="#3a3a3a" stroke-width="1"/>
<line x1="210.32" y1="598.3" x2="210.32" y2="596.5" stroke="#3a3a3a" stroke-width="1"/>
<line x1="31.9" y1="587.87" x2="34.9" y2="587.87" stroke="#3a3a3a" stroke-width="1"/>
<text x="28.10" y="591.47" text-anchor="end" font-size="10" font-weight="bold" class="k">−1</text>
<line x1="31.9" y1="546.00" x2="34.9" y2="546.00" stroke="#3a3a3a" stroke-width="1"/>
<text x="28.10" y="549.60" text-anchor="end" font-size="10" font-weight="bold" class="k">0</text>
<line x1="31.9" y1="504.13" x2="34.9" y2="504.13" stroke="#3a3a3a" stroke-width="1"/>
<text x="28.10" y="507.73" text-anchor="end" font-size="10" font-weight="bold" class="k">1</text>
<line x1="31.9" y1="462.26" x2="34.9" y2="462.26" stroke="#3a3a3a" stroke-width="1"/>
<text x="28.10" y="465.86" text-anchor="end" font-size="10" font-weight="bold" class="k">2</text>
<line x1="31.9" y1="566.93" x2="33.699999999999996" y2="566.93" stroke="#3a3a3a" stroke-width="1"/>
<line x1="31.9" y1="525.07" x2="33.699999999999996" y2="525.07" stroke="#3a3a3a" stroke-width="1"/>
<line x1="31.9" y1="483.19" x2="33.699999999999996" y2="483.19" stroke="#3a3a3a" stroke-width="1"/>
<text x="35.70" y="520.10" fill="#45b5e5" stroke="#45b5e5" stroke-width="0.45" font-size="10.1" font-weight="bold" textLength="85.1" lengthAdjust="spacingAndGlyphs">y=-0.3571x-0.2797</text>
<text x="35.70" y="534.00" fill="#45b5e5" stroke="#45b5e5" stroke-width="0.45" font-size="10.1" font-weight="bold" textLength="46.9" lengthAdjust="spacingAndGlyphs">R<tspan dy="-3.9" font-size="6.4">2</tspan><tspan dy="3.9">=0.9989</tspan></text>
<text x="35.70" y="547.10" fill="#45b5e5" stroke="#45b5e5" stroke-width="0.45" font-size="10.1" font-weight="bold" textLength="46.1" lengthAdjust="spacingAndGlyphs">D<tspan dy="2.6" font-size="7.2" font-style="italic">L2</tspan><tspan dy="-2.6">=2.429</tspan></text>
<text x="87.30" y="563.30" fill="#e8a060" stroke="#e8a060" stroke-width="0.45" font-size="10.1" font-weight="bold" textLength="84.5" lengthAdjust="spacingAndGlyphs">y=-0.5636x-0.2457</text>
<text x="87.30" y="576.70" fill="#e8a060" stroke="#e8a060" stroke-width="0.45" font-size="10.1" font-weight="bold" textLength="47.7" lengthAdjust="spacingAndGlyphs">R<tspan dy="-3.9" font-size="6.4">2</tspan><tspan dy="3.9">=0.9920</tspan></text>
<text x="87.30" y="589.20" fill="#e8a060" stroke="#e8a060" stroke-width="0.45" font-size="10.1" font-weight="bold" textLength="46.3" lengthAdjust="spacingAndGlyphs">D<tspan dy="2.6" font-size="7.2" font-style="italic">L1</tspan><tspan dy="-2.6">=2.435</tspan></text>
<circle cx="54.70" cy="456.34" r="3.3" fill="url(#sph)"/>
<circle cx="66.69" cy="466.65" r="3.3" fill="url(#sph)"/>
<circle cx="79.80" cy="476.69" r="3.3" fill="url(#sph)"/>
<circle cx="88.16" cy="483.38" r="3.3" fill="url(#sph)"/>
<circle cx="93.74" cy="487.84" r="3.3" fill="url(#sph)"/>
<circle cx="97.92" cy="491.19" r="3.3" fill="url(#sph)"/>
<circle cx="112.70" cy="500.11" r="3.3" fill="url(#sph)"/>
<circle cx="122.46" cy="506.53" r="3.3" fill="url(#sph)"/>
<circle cx="128.59" cy="510.71" r="3.3" fill="url(#sph)"/>
<circle cx="134.73" cy="514.89" r="3.3" fill="url(#sph)"/>
<circle cx="136.96" cy="518.09" r="3.3" fill="url(#sph)"/>
<circle cx="139.65" cy="520.11" r="3.3" fill="url(#sph)"/>
<circle cx="142.35" cy="522.13" r="3.3" fill="url(#sph)"/>
<circle cx="145.04" cy="524.16" r="3.3" fill="url(#sph)"/>
<circle cx="147.74" cy="526.18" r="3.3" fill="url(#sph)"/>
<circle cx="150.43" cy="528.20" r="3.3" fill="url(#sph)"/>
<circle cx="153.13" cy="530.23" r="3.3" fill="url(#sph)"/>
<circle cx="153.69" cy="530.78" r="3.3" fill="url(#sph)"/>
<circle cx="156.35" cy="533.39" r="3.3" fill="url(#sph)"/>
<circle cx="159.01" cy="536.01" r="3.3" fill="url(#sph)"/>
<circle cx="161.67" cy="538.62" r="3.3" fill="url(#sph)"/>
<circle cx="164.33" cy="541.23" r="3.3" fill="url(#sph)"/>
<circle cx="166.99" cy="543.84" r="3.3" fill="url(#sph)"/>
<circle cx="169.66" cy="546.45" r="3.3" fill="url(#sph)"/>
<circle cx="172.32" cy="549.06" r="3.3" fill="url(#sph)"/>
<circle cx="174.98" cy="551.67" r="3.3" fill="url(#sph)"/>
<circle cx="177.64" cy="554.28" r="3.3" fill="url(#sph)"/>
<circle cx="180.30" cy="556.89" r="3.3" fill="url(#sph)"/>
<circle cx="182.96" cy="559.50" r="3.3" fill="url(#sph)"/>
<circle cx="181.57" cy="559.50" r="3.3" fill="url(#sph)"/>
<circle cx="190.49" cy="568.71" r="3.3" fill="url(#sph)"/>
<circle cx="193.28" cy="572.05" r="3.3" fill="url(#sph)"/>
<circle cx="198.30" cy="583.76" r="3.3" fill="url(#sph)"/>
<circle cx="198.86" cy="585.44" r="3.3" fill="url(#sph)"/>
<line x1="54.70" y1="456.34" x2="153.13" y2="530.23" stroke="#3ec6f2" stroke-width="2.9"/>
<line x1="153.69" y1="529.67" x2="200.25" y2="581.81" stroke="#f4a460" stroke-width="2.9"/>
<rect x="156.10" y="455.40" width="62.70" height="17.40" fill="#666"/>
<rect x="155.10" y="454.40" width="62.70" height="17.40" fill="#0ff8f8" stroke="#2a6f6f" stroke-width="0.8"/>
<text x="186.45" y="467.30" text-anchor="middle" font-size="12" font-weight="bold" font-style="italic" textLength="59.4" lengthAdjust="spacingAndGlyphs">Untreated</text>
<rect x="31.9" y="441.5" width="188.60" height="156.80" fill="none" stroke="#3a3a3a" stroke-width="1.1"/>
<text transform="translate(11.90,519.90) rotate(-90)" text-anchor="middle" font-size="13" font-weight="bold" class="k">lnV</text>
<text x="126.20" y="630.10" text-anchor="middle" font-size="12" font-weight="bold" class="k" textLength="65" lengthAdjust="spacingAndGlyphs">ln[ln(p<tspan dy="3.0" font-size="10.5">0</tspan><tspan dy="-3.0">/p)]</tspan></text>
<rect x="262.5" y="441.5" width="121.00" height="156.70" fill="#e8f7fd"/>
<rect x="383.50" y="441.5" width="67.20" height="156.70" fill="#fdf3ea"/>
<line x1="383.50" y1="441.5" x2="383.50" y2="598.2" stroke="#bdbdbd" stroke-width="0.9"/>
<line x1="267.54" y1="598.2" x2="267.54" y2="595.2" stroke="#3a3a3a" stroke-width="1"/>
<line x1="287.90" y1="598.2" x2="287.90" y2="595.2" stroke="#3a3a3a" stroke-width="1"/>
<line x1="308.26" y1="598.2" x2="308.26" y2="595.2" stroke="#3a3a3a" stroke-width="1"/>
<line x1="328.62" y1="598.2" x2="328.62" y2="595.2" stroke="#3a3a3a" stroke-width="1"/>
<line x1="348.98" y1="598.2" x2="348.98" y2="595.2" stroke="#3a3a3a" stroke-width="1"/>
<line x1="369.34" y1="598.2" x2="369.34" y2="595.2" stroke="#3a3a3a" stroke-width="1"/>
<line x1="389.70" y1="598.2" x2="389.70" y2="595.2" stroke="#3a3a3a" stroke-width="1"/>
<line x1="410.06" y1="598.2" x2="410.06" y2="595.2" stroke="#3a3a3a" stroke-width="1"/>
<line x1="430.42" y1="598.2" x2="430.42" y2="595.2" stroke="#3a3a3a" stroke-width="1"/>
<text x="267.54" y="609.70" text-anchor="middle" font-size="10" font-weight="bold" class="k">−6</text>
<text x="287.90" y="609.70" text-anchor="middle" font-size="10" font-weight="bold" class="k">−5</text>
<text x="308.26" y="609.70" text-anchor="middle" font-size="10" font-weight="bold" class="k">−4</text>
<text x="328.62" y="609.70" text-anchor="middle" font-size="10" font-weight="bold" class="k">−3</text>
<text x="348.98" y="609.70" text-anchor="middle" font-size="10" font-weight="bold" class="k">−2</text>
<text x="369.34" y="609.70" text-anchor="middle" font-size="10" font-weight="bold" class="k">−1</text>
<text x="389.70" y="609.70" text-anchor="middle" font-size="10" font-weight="bold" class="k">0</text>
<text x="410.06" y="609.70" text-anchor="middle" font-size="10" font-weight="bold" class="k">1</text>
<text x="430.42" y="609.70" text-anchor="middle" font-size="10" font-weight="bold" class="k">2</text>
<text x="450.78" y="609.70" text-anchor="middle" font-size="10" font-weight="bold" class="k">3</text>
<line x1="277.72" y1="598.2" x2="277.72" y2="596.4000000000001" stroke="#3a3a3a" stroke-width="1"/>
<line x1="298.08" y1="598.2" x2="298.08" y2="596.4000000000001" stroke="#3a3a3a" stroke-width="1"/>
<line x1="318.44" y1="598.2" x2="318.44" y2="596.4000000000001" stroke="#3a3a3a" stroke-width="1"/>
<line x1="338.80" y1="598.2" x2="338.80" y2="596.4000000000001" stroke="#3a3a3a" stroke-width="1"/>
<line x1="359.16" y1="598.2" x2="359.16" y2="596.4000000000001" stroke="#3a3a3a" stroke-width="1"/>
<line x1="379.52" y1="598.2" x2="379.52" y2="596.4000000000001" stroke="#3a3a3a" stroke-width="1"/>
<line x1="399.88" y1="598.2" x2="399.88" y2="596.4000000000001" stroke="#3a3a3a" stroke-width="1"/>
<line x1="420.24" y1="598.2" x2="420.24" y2="596.4000000000001" stroke="#3a3a3a" stroke-width="1"/>
<line x1="440.60" y1="598.2" x2="440.60" y2="596.4000000000001" stroke="#3a3a3a" stroke-width="1"/>
<line x1="262.5" y1="588.16" x2="265.5" y2="588.16" stroke="#3a3a3a" stroke-width="1"/>
<text x="258.70" y="591.76" text-anchor="end" font-size="10" font-weight="bold" class="k">−2</text>
<line x1="262.5" y1="549.23" x2="265.5" y2="549.23" stroke="#3a3a3a" stroke-width="1"/>
<text x="258.70" y="552.83" text-anchor="end" font-size="10" font-weight="bold" class="k">−1</text>
<line x1="262.5" y1="510.30" x2="265.5" y2="510.30" stroke="#3a3a3a" stroke-width="1"/>
<text x="258.70" y="513.90" text-anchor="end" font-size="10" font-weight="bold" class="k">0</text>
<line x1="262.5" y1="471.37" x2="265.5" y2="471.37" stroke="#3a3a3a" stroke-width="1"/>
<text x="258.70" y="474.97" text-anchor="end" font-size="10" font-weight="bold" class="k">1</text>
<line x1="262.5" y1="568.70" x2="264.3" y2="568.70" stroke="#3a3a3a" stroke-width="1"/>
<line x1="262.5" y1="529.76" x2="264.3" y2="529.76" stroke="#3a3a3a" stroke-width="1"/>
<line x1="262.5" y1="490.84" x2="264.3" y2="490.84" stroke="#3a3a3a" stroke-width="1"/>
<line x1="262.5" y1="451.91" x2="264.3" y2="451.91" stroke="#3a3a3a" stroke-width="1"/>
<text x="266.60" y="512.30" fill="#45b5e5" stroke="#45b5e5" stroke-width="0.45" font-size="10.1" font-weight="bold" textLength="85.0" lengthAdjust="spacingAndGlyphs">y=-0.3523x-0.4575</text>
<text x="266.60" y="526.20" fill="#45b5e5" stroke="#45b5e5" stroke-width="0.45" font-size="10.1" font-weight="bold" textLength="47.4" lengthAdjust="spacingAndGlyphs">R<tspan dy="-3.9" font-size="6.4">2</tspan><tspan dy="3.9">=0.9929</tspan></text>
<text x="266.60" y="538.20" fill="#45b5e5" stroke="#45b5e5" stroke-width="0.45" font-size="10.1" font-weight="bold" textLength="46.0" lengthAdjust="spacingAndGlyphs">D<tspan dy="2.6" font-size="7.2" font-style="italic">L2</tspan><tspan dy="-2.6">=2.648</tspan></text>
<text x="319.00" y="564.70" fill="#e8a060" stroke="#e8a060" stroke-width="0.45" font-size="10.1" font-weight="bold" textLength="85.1" lengthAdjust="spacingAndGlyphs">y=-0.6465x-0.5670</text>
<text x="319.00" y="578.60" fill="#e8a060" stroke="#e8a060" stroke-width="0.45" font-size="10.1" font-weight="bold" textLength="48.0" lengthAdjust="spacingAndGlyphs">R<tspan dy="-3.9" font-size="6.4">2</tspan><tspan dy="3.9">=0.9865</tspan></text>
<text x="319.00" y="591.20" fill="#e8a060" stroke="#e8a060" stroke-width="0.45" font-size="10.1" font-weight="bold" textLength="46.6" lengthAdjust="spacingAndGlyphs">D<tspan dy="2.6" font-size="7.2" font-style="italic">L1</tspan><tspan dy="-2.6">=2.354</tspan></text>
<circle cx="286.65" cy="459.96" r="3.3" fill="url(#sph)"/>
<circle cx="296.69" cy="466.93" r="3.3" fill="url(#sph)"/>
<circle cx="309.80" cy="475.02" r="3.3" fill="url(#sph)"/>
<circle cx="318.16" cy="479.48" r="3.3" fill="url(#sph)"/>
<circle cx="325.13" cy="483.38" r="3.3" fill="url(#sph)"/>
<circle cx="328.48" cy="485.06" r="3.3" fill="url(#sph)"/>
<circle cx="343.26" cy="493.14" r="3.3" fill="url(#sph)"/>
<circle cx="352.46" cy="499.55" r="3.3" fill="url(#sph)"/>
<circle cx="359.15" cy="504.57" r="3.3" fill="url(#sph)"/>
<circle cx="364.73" cy="508.48" r="3.3" fill="url(#sph)"/>
<circle cx="366.96" cy="513.39" r="3.3" fill="url(#sph)"/>
<circle cx="369.74" cy="515.27" r="3.3" fill="url(#sph)"/>
<circle cx="372.53" cy="517.15" r="3.3" fill="url(#sph)"/>
<circle cx="375.32" cy="519.02" r="3.3" fill="url(#sph)"/>
<circle cx="378.11" cy="520.90" r="3.3" fill="url(#sph)"/>
<circle cx="380.90" cy="522.78" r="3.3" fill="url(#sph)"/>
<circle cx="383.69" cy="524.66" r="3.3" fill="url(#sph)"/>
<circle cx="383.69" cy="524.44" r="3.3" fill="url(#sph)"/>
<circle cx="385.89" cy="527.17" r="3.3" fill="url(#sph)"/>
<circle cx="388.10" cy="529.89" r="3.3" fill="url(#sph)"/>
<circle cx="390.30" cy="532.62" r="3.3" fill="url(#sph)"/>
<circle cx="392.51" cy="535.34" r="3.3" fill="url(#sph)"/>
<circle cx="394.71" cy="538.07" r="3.3" fill="url(#sph)"/>
<circle cx="396.92" cy="540.80" r="3.3" fill="url(#sph)"/>
<circle cx="399.12" cy="543.52" r="3.3" fill="url(#sph)"/>
<circle cx="401.33" cy="546.25" r="3.3" fill="url(#sph)"/>
<circle cx="403.53" cy="548.97" r="3.3" fill="url(#sph)"/>
<circle cx="405.74" cy="551.70" r="3.3" fill="url(#sph)"/>
<circle cx="407.94" cy="554.43" r="3.3" fill="url(#sph)"/>
<circle cx="412.96" cy="556.72" r="3.3" fill="url(#sph)"/>
<circle cx="421.33" cy="567.03" r="3.3" fill="url(#sph)"/>
<circle cx="424.12" cy="571.49" r="3.3" fill="url(#sph)"/>
<circle cx="428.30" cy="584.60" r="3.3" fill="url(#sph)"/>
<circle cx="429.69" cy="586.55" r="3.3" fill="url(#sph)"/>
<line x1="286.65" y1="458.69" x2="383.69" y2="524.06" stroke="#3ec6f2" stroke-width="2.9"/>
<line x1="383.69" y1="524.94" x2="430.25" y2="582.50" stroke="#f4a460" stroke-width="2.9"/>
<rect x="388.30" y="454.80" width="59.40" height="18.00" fill="#666"/>
<rect x="387.30" y="453.80" width="59.40" height="18.00" fill="#0ff8f8" stroke="#2a6f6f" stroke-width="0.8"/>
<text x="417.00" y="467.00" text-anchor="middle" font-size="12" font-weight="bold" font-style="italic" textLength="32.6" lengthAdjust="spacingAndGlyphs">0MPa</text>
<rect x="262.5" y="441.5" width="188.20" height="156.70" fill="none" stroke="#3a3a3a" stroke-width="1.1"/>
<text transform="translate(242.50,519.85) rotate(-90)" text-anchor="middle" font-size="13" font-weight="bold" class="k">lnV</text>
<text x="356.60" y="630.00" text-anchor="middle" font-size="12" font-weight="bold" class="k" textLength="65" lengthAdjust="spacingAndGlyphs">ln[ln(p<tspan dy="3.0" font-size="10.5">0</tspan><tspan dy="-3.0">/p)]</tspan></text>
<rect x="492.6" y="441.5" width="120.90" height="156.70" fill="#e8f7fd"/>
<rect x="613.50" y="441.5" width="67.50" height="156.70" fill="#fdf3ea"/>
<line x1="613.50" y1="441.5" x2="613.50" y2="598.2" stroke="#bdbdbd" stroke-width="0.9"/>
<line x1="497.50" y1="598.2" x2="497.50" y2="595.2" stroke="#3a3a3a" stroke-width="1"/>
<line x1="517.88" y1="598.2" x2="517.88" y2="595.2" stroke="#3a3a3a" stroke-width="1"/>
<line x1="538.25" y1="598.2" x2="538.25" y2="595.2" stroke="#3a3a3a" stroke-width="1"/>
<line x1="558.62" y1="598.2" x2="558.62" y2="595.2" stroke="#3a3a3a" stroke-width="1"/>
<line x1="579.00" y1="598.2" x2="579.00" y2="595.2" stroke="#3a3a3a" stroke-width="1"/>
<line x1="599.38" y1="598.2" x2="599.38" y2="595.2" stroke="#3a3a3a" stroke-width="1"/>
<line x1="619.75" y1="598.2" x2="619.75" y2="595.2" stroke="#3a3a3a" stroke-width="1"/>
<line x1="640.12" y1="598.2" x2="640.12" y2="595.2" stroke="#3a3a3a" stroke-width="1"/>
<line x1="660.50" y1="598.2" x2="660.50" y2="595.2" stroke="#3a3a3a" stroke-width="1"/>
<text x="497.50" y="609.70" text-anchor="middle" font-size="10" font-weight="bold" class="k">−6</text>
<text x="517.88" y="609.70" text-anchor="middle" font-size="10" font-weight="bold" class="k">−5</text>
<text x="538.25" y="609.70" text-anchor="middle" font-size="10" font-weight="bold" class="k">−4</text>
<text x="558.62" y="609.70" text-anchor="middle" font-size="10" font-weight="bold" class="k">−3</text>
<text x="579.00" y="609.70" text-anchor="middle" font-size="10" font-weight="bold" class="k">−2</text>
<text x="599.38" y="609.70" text-anchor="middle" font-size="10" font-weight="bold" class="k">−1</text>
<text x="619.75" y="609.70" text-anchor="middle" font-size="10" font-weight="bold" class="k">0</text>
<text x="640.12" y="609.70" text-anchor="middle" font-size="10" font-weight="bold" class="k">1</text>
<text x="660.50" y="609.70" text-anchor="middle" font-size="10" font-weight="bold" class="k">2</text>
<text x="680.88" y="609.70" text-anchor="middle" font-size="10" font-weight="bold" class="k">3</text>
<line x1="507.69" y1="598.2" x2="507.69" y2="596.4000000000001" stroke="#3a3a3a" stroke-width="1"/>
<line x1="528.06" y1="598.2" x2="528.06" y2="596.4000000000001" stroke="#3a3a3a" stroke-width="1"/>
<line x1="548.44" y1="598.2" x2="548.44" y2="596.4000000000001" stroke="#3a3a3a" stroke-width="1"/>
<line x1="568.81" y1="598.2" x2="568.81" y2="596.4000000000001" stroke="#3a3a3a" stroke-width="1"/>
<line x1="589.19" y1="598.2" x2="589.19" y2="596.4000000000001" stroke="#3a3a3a" stroke-width="1"/>
<line x1="609.56" y1="598.2" x2="609.56" y2="596.4000000000001" stroke="#3a3a3a" stroke-width="1"/>
<line x1="629.94" y1="598.2" x2="629.94" y2="596.4000000000001" stroke="#3a3a3a" stroke-width="1"/>
<line x1="650.31" y1="598.2" x2="650.31" y2="596.4000000000001" stroke="#3a3a3a" stroke-width="1"/>
<line x1="670.69" y1="598.2" x2="670.69" y2="596.4000000000001" stroke="#3a3a3a" stroke-width="1"/>
<line x1="492.6" y1="564.40" x2="495.6" y2="564.40" stroke="#3a3a3a" stroke-width="1"/>
<text x="488.80" y="568.00" text-anchor="end" font-size="10" font-weight="bold" class="k">−1</text>
<line x1="492.6" y1="519.90" x2="495.6" y2="519.90" stroke="#3a3a3a" stroke-width="1"/>
<text x="488.80" y="523.50" text-anchor="end" font-size="10" font-weight="bold" class="k">0</text>
<line x1="492.6" y1="475.40" x2="495.6" y2="475.40" stroke="#3a3a3a" stroke-width="1"/>
<text x="488.80" y="479.00" text-anchor="end" font-size="10" font-weight="bold" class="k">1</text>
<line x1="492.6" y1="586.65" x2="494.40000000000003" y2="586.65" stroke="#3a3a3a" stroke-width="1"/>
<line x1="492.6" y1="542.15" x2="494.40000000000003" y2="542.15" stroke="#3a3a3a" stroke-width="1"/>
<line x1="492.6" y1="497.65" x2="494.40000000000003" y2="497.65" stroke="#3a3a3a" stroke-width="1"/>
<line x1="492.6" y1="453.15" x2="494.40000000000003" y2="453.15" stroke="#3a3a3a" stroke-width="1"/>
<text x="497.10" y="515.90" fill="#45b5e5" stroke="#45b5e5" stroke-width="0.45" font-size="10.1" font-weight="bold" textLength="84.5" lengthAdjust="spacingAndGlyphs">y=-0.3210x-0.1591</text>
<text x="497.10" y="529.80" fill="#45b5e5" stroke="#45b5e5" stroke-width="0.45" font-size="10.1" font-weight="bold" textLength="47.4" lengthAdjust="spacingAndGlyphs">R<tspan dy="-3.9" font-size="6.4">2</tspan><tspan dy="3.9">=0.9929</tspan></text>
<text x="497.10" y="542.40" fill="#45b5e5" stroke="#45b5e5" stroke-width="0.45" font-size="10.1" font-weight="bold" textLength="46.0" lengthAdjust="spacingAndGlyphs">D<tspan dy="2.6" font-size="7.2" font-style="italic">L2</tspan><tspan dy="-2.6">=2.679</tspan></text>
<text x="550.10" y="562.50" fill="#e8a060" stroke="#e8a060" stroke-width="0.45" font-size="10.1" font-weight="bold" textLength="84.5" lengthAdjust="spacingAndGlyphs">y=-0.5543x-0.2469</text>
<text x="550.10" y="576.40" fill="#e8a060" stroke="#e8a060" stroke-width="0.45" font-size="10.1" font-weight="bold" textLength="47.4" lengthAdjust="spacingAndGlyphs">R<tspan dy="-3.9" font-size="6.4">2</tspan><tspan dy="3.9">=0.9821</tspan></text>
<text x="550.10" y="589.20" fill="#e8a060" stroke="#e8a060" stroke-width="0.45" font-size="10.1" font-weight="bold" textLength="46.3" lengthAdjust="spacingAndGlyphs">D<tspan dy="2.6" font-size="7.2" font-style="italic">L1</tspan><tspan dy="-2.6">=2.446</tspan></text>
<circle cx="513.86" cy="454.94" r="3.3" fill="url(#sph)"/>
<circle cx="525.30" cy="461.91" r="3.3" fill="url(#sph)"/>
<circle cx="539.80" cy="470.28" r="3.3" fill="url(#sph)"/>
<circle cx="548.16" cy="476.69" r="3.3" fill="url(#sph)"/>
<circle cx="555.13" cy="480.04" r="3.3" fill="url(#sph)"/>
<circle cx="559.87" cy="482.82" r="3.3" fill="url(#sph)"/>
<circle cx="574.09" cy="491.19" r="3.3" fill="url(#sph)"/>
<circle cx="583.01" cy="497.60" r="3.3" fill="url(#sph)"/>
<circle cx="589.99" cy="502.34" r="3.3" fill="url(#sph)"/>
<circle cx="595.56" cy="507.08" r="3.3" fill="url(#sph)"/>
<circle cx="598.35" cy="512.28" r="3.3" fill="url(#sph)"/>
<circle cx="601.31" cy="514.35" r="3.3" fill="url(#sph)"/>
<circle cx="604.26" cy="516.42" r="3.3" fill="url(#sph)"/>
<circle cx="607.22" cy="518.49" r="3.3" fill="url(#sph)"/>
<circle cx="610.17" cy="520.57" r="3.3" fill="url(#sph)"/>
<circle cx="613.13" cy="522.64" r="3.3" fill="url(#sph)"/>
<circle cx="613.13" cy="522.27" r="3.3" fill="url(#sph)"/>
<circle cx="615.36" cy="524.97" r="3.3" fill="url(#sph)"/>
<circle cx="617.59" cy="527.67" r="3.3" fill="url(#sph)"/>
<circle cx="619.82" cy="530.37" r="3.3" fill="url(#sph)"/>
<circle cx="622.05" cy="533.07" r="3.3" fill="url(#sph)"/>
<circle cx="624.28" cy="535.77" r="3.3" fill="url(#sph)"/>
<circle cx="626.51" cy="538.47" r="3.3" fill="url(#sph)"/>
<circle cx="628.74" cy="541.17" r="3.3" fill="url(#sph)"/>
<circle cx="630.97" cy="543.87" r="3.3" fill="url(#sph)"/>
<circle cx="633.20" cy="546.58" r="3.3" fill="url(#sph)"/>
<circle cx="635.44" cy="549.28" r="3.3" fill="url(#sph)"/>
<circle cx="637.67" cy="551.98" r="3.3" fill="url(#sph)"/>
<circle cx="639.90" cy="554.68" r="3.3" fill="url(#sph)"/>
<circle cx="642.13" cy="557.38" r="3.3" fill="url(#sph)"/>
<circle cx="642.96" cy="554.76" r="3.3" fill="url(#sph)"/>
<circle cx="651.33" cy="563.69" r="3.3" fill="url(#sph)"/>
<circle cx="654.67" cy="569.26" r="3.3" fill="url(#sph)"/>
<circle cx="659.14" cy="581.81" r="3.3" fill="url(#sph)"/>
<circle cx="661.09" cy="587.39" r="3.3" fill="url(#sph)"/>
<line x1="513.86" y1="452.75" x2="613.13" y2="522.34" stroke="#3ec6f2" stroke-width="2.9"/>
<line x1="613.13" y1="522.87" x2="661.65" y2="581.61" stroke="#f4a460" stroke-width="2.9"/>
<rect x="618.30" y="454.80" width="59.40" height="18.00" fill="#666"/>
<rect x="617.30" y="453.80" width="59.40" height="18.00" fill="#0ff8f8" stroke="#2a6f6f" stroke-width="0.8"/>
<text x="647.00" y="467.00" text-anchor="middle" font-size="12" font-weight="bold" font-style="italic" textLength="32.6" lengthAdjust="spacingAndGlyphs">5MPa</text>
<rect x="492.6" y="441.5" width="188.40" height="156.70" fill="none" stroke="#3a3a3a" stroke-width="1.1"/>
<text transform="translate(472.60,519.85) rotate(-90)" text-anchor="middle" font-size="13" font-weight="bold" class="k">lnV</text>
<text x="586.80" y="630.00" text-anchor="middle" font-size="12" font-weight="bold" class="k" textLength="65" lengthAdjust="spacingAndGlyphs">ln[ln(p<tspan dy="3.0" font-size="10.5">0</tspan><tspan dy="-3.0">/p)]</tspan></text>
<rect x="134.7" y="642.6" width="120.80" height="156.60" fill="#e8f7fd"/>
<rect x="255.50" y="642.6" width="67.60" height="156.60" fill="#fdf3ea"/>
<line x1="255.50" y1="642.6" x2="255.50" y2="799.2" stroke="#bdbdbd" stroke-width="0.9"/>
<line x1="139.56" y1="799.2" x2="139.56" y2="796.2" stroke="#3a3a3a" stroke-width="1"/>
<line x1="159.95" y1="799.2" x2="159.95" y2="796.2" stroke="#3a3a3a" stroke-width="1"/>
<line x1="180.34" y1="799.2" x2="180.34" y2="796.2" stroke="#3a3a3a" stroke-width="1"/>
<line x1="200.73" y1="799.2" x2="200.73" y2="796.2" stroke="#3a3a3a" stroke-width="1"/>
<line x1="221.12" y1="799.2" x2="221.12" y2="796.2" stroke="#3a3a3a" stroke-width="1"/>
<line x1="241.51" y1="799.2" x2="241.51" y2="796.2" stroke="#3a3a3a" stroke-width="1"/>
<line x1="261.90" y1="799.2" x2="261.90" y2="796.2" stroke="#3a3a3a" stroke-width="1"/>
<line x1="282.29" y1="799.2" x2="282.29" y2="796.2" stroke="#3a3a3a" stroke-width="1"/>
<line x1="302.68" y1="799.2" x2="302.68" y2="796.2" stroke="#3a3a3a" stroke-width="1"/>
<text x="139.56" y="810.70" text-anchor="middle" font-size="10" font-weight="bold" class="k">−6</text>
<text x="159.95" y="810.70" text-anchor="middle" font-size="10" font-weight="bold" class="k">−5</text>
<text x="180.34" y="810.70" text-anchor="middle" font-size="10" font-weight="bold" class="k">−4</text>
<text x="200.73" y="810.70" text-anchor="middle" font-size="10" font-weight="bold" class="k">−3</text>
<text x="221.12" y="810.70" text-anchor="middle" font-size="10" font-weight="bold" class="k">−2</text>
<text x="241.51" y="810.70" text-anchor="middle" font-size="10" font-weight="bold" class="k">−1</text>
<text x="261.90" y="810.70" text-anchor="middle" font-size="10" font-weight="bold" class="k">0</text>
<text x="282.29" y="810.70" text-anchor="middle" font-size="10" font-weight="bold" class="k">1</text>
<text x="302.68" y="810.70" text-anchor="middle" font-size="10" font-weight="bold" class="k">2</text>
<text x="323.07" y="810.70" text-anchor="middle" font-size="10" font-weight="bold" class="k">3</text>
<line x1="149.75" y1="799.2" x2="149.75" y2="797.4000000000001" stroke="#3a3a3a" stroke-width="1"/>
<line x1="170.14" y1="799.2" x2="170.14" y2="797.4000000000001" stroke="#3a3a3a" stroke-width="1"/>
<line x1="190.53" y1="799.2" x2="190.53" y2="797.4000000000001" stroke="#3a3a3a" stroke-width="1"/>
<line x1="210.92" y1="799.2" x2="210.92" y2="797.4000000000001" stroke="#3a3a3a" stroke-width="1"/>
<line x1="231.31" y1="799.2" x2="231.31" y2="797.4000000000001" stroke="#3a3a3a" stroke-width="1"/>
<line x1="251.70" y1="799.2" x2="251.70" y2="797.4000000000001" stroke="#3a3a3a" stroke-width="1"/>
<line x1="272.09" y1="799.2" x2="272.09" y2="797.4000000000001" stroke="#3a3a3a" stroke-width="1"/>
<line x1="292.48" y1="799.2" x2="292.48" y2="797.4000000000001" stroke="#3a3a3a" stroke-width="1"/>
<line x1="312.88" y1="799.2" x2="312.88" y2="797.4000000000001" stroke="#3a3a3a" stroke-width="1"/>
<line x1="134.7" y1="789.34" x2="137.7" y2="789.34" stroke="#3a3a3a" stroke-width="1"/>
<text x="130.90" y="792.94" text-anchor="end" font-size="10" font-weight="bold" class="k">−2</text>
<line x1="134.7" y1="750.27" x2="137.7" y2="750.27" stroke="#3a3a3a" stroke-width="1"/>
<text x="130.90" y="753.87" text-anchor="end" font-size="10" font-weight="bold" class="k">−1</text>
<line x1="134.7" y1="711.20" x2="137.7" y2="711.20" stroke="#3a3a3a" stroke-width="1"/>
<text x="130.90" y="714.80" text-anchor="end" font-size="10" font-weight="bold" class="k">0</text>
<line x1="134.7" y1="672.13" x2="137.7" y2="672.13" stroke="#3a3a3a" stroke-width="1"/>
<text x="130.90" y="675.73" text-anchor="end" font-size="10" font-weight="bold" class="k">1</text>
<line x1="134.7" y1="769.81" x2="136.5" y2="769.81" stroke="#3a3a3a" stroke-width="1"/>
<line x1="134.7" y1="730.74" x2="136.5" y2="730.74" stroke="#3a3a3a" stroke-width="1"/>
<line x1="134.7" y1="691.67" x2="136.5" y2="691.67" stroke="#3a3a3a" stroke-width="1"/>
<line x1="134.7" y1="652.60" x2="136.5" y2="652.60" stroke="#3a3a3a" stroke-width="1"/>
<text x="139.60" y="713.30" fill="#45b5e5" stroke="#45b5e5" stroke-width="0.45" font-size="10.1" font-weight="bold" textLength="85.9" lengthAdjust="spacingAndGlyphs">y=-0.3385x-0.3116</text>
<text x="139.60" y="727.20" fill="#45b5e5" stroke="#45b5e5" stroke-width="0.45" font-size="10.1" font-weight="bold" textLength="47.4" lengthAdjust="spacingAndGlyphs">R<tspan dy="-3.9" font-size="6.4">2</tspan><tspan dy="3.9">=0.9987</tspan></text>
<text x="139.60" y="739.20" fill="#45b5e5" stroke="#45b5e5" stroke-width="0.45" font-size="10.1" font-weight="bold" textLength="46.0" lengthAdjust="spacingAndGlyphs">D<tspan dy="2.6" font-size="7.2" font-style="italic">L2</tspan><tspan dy="-2.6">=2.662</tspan></text>
<text x="199.50" y="758.70" fill="#e8a060" stroke="#e8a060" stroke-width="0.45" font-size="10.1" font-weight="bold" textLength="85.1" lengthAdjust="spacingAndGlyphs">y=-0.5575x-0.3714</text>
<text x="199.50" y="772.70" fill="#e8a060" stroke="#e8a060" stroke-width="0.45" font-size="10.1" font-weight="bold" textLength="47.4" lengthAdjust="spacingAndGlyphs">R<tspan dy="-3.9" font-size="6.4">2</tspan><tspan dy="3.9">=0.9919</tspan></text>
<text x="199.50" y="785.20" fill="#e8a060" stroke="#e8a060" stroke-width="0.45" font-size="10.1" font-weight="bold" textLength="40.5" lengthAdjust="spacingAndGlyphs">D<tspan dy="2.6" font-size="7.2" font-style="italic">L1</tspan><tspan dy="-2.6">=2.43</tspan></text>
<circle cx="158.54" cy="654.55" r="3.3" fill="url(#sph)"/>
<circle cx="168.02" cy="662.91" r="3.3" fill="url(#sph)"/>
<circle cx="182.80" cy="671.28" r="3.3" fill="url(#sph)"/>
<circle cx="191.16" cy="677.41" r="3.3" fill="url(#sph)"/>
<circle cx="197.57" cy="681.59" r="3.3" fill="url(#sph)"/>
<circle cx="201.76" cy="684.38" r="3.3" fill="url(#sph)"/>
<circle cx="215.70" cy="692.75" r="3.3" fill="url(#sph)"/>
<circle cx="224.62" cy="697.77" r="3.3" fill="url(#sph)"/>
<circle cx="231.59" cy="701.95" r="3.3" fill="url(#sph)"/>
<circle cx="237.17" cy="705.57" r="3.3" fill="url(#sph)"/>
<circle cx="239.96" cy="709.14" r="3.3" fill="url(#sph)"/>
<circle cx="243.08" cy="711.17" r="3.3" fill="url(#sph)"/>
<circle cx="246.20" cy="713.19" r="3.3" fill="url(#sph)"/>
<circle cx="249.32" cy="715.22" r="3.3" fill="url(#sph)"/>
<circle cx="252.45" cy="717.24" r="3.3" fill="url(#sph)"/>
<circle cx="255.57" cy="719.27" r="3.3" fill="url(#sph)"/>
<circle cx="255.57" cy="718.55" r="3.3" fill="url(#sph)"/>
<circle cx="258.03" cy="721.18" r="3.3" fill="url(#sph)"/>
<circle cx="260.50" cy="723.81" r="3.3" fill="url(#sph)"/>
<circle cx="262.96" cy="726.44" r="3.3" fill="url(#sph)"/>
<circle cx="265.42" cy="729.07" r="3.3" fill="url(#sph)"/>
<circle cx="267.89" cy="731.70" r="3.3" fill="url(#sph)"/>
<circle cx="270.35" cy="734.34" r="3.3" fill="url(#sph)"/>
<circle cx="272.81" cy="736.97" r="3.3" fill="url(#sph)"/>
<circle cx="275.27" cy="739.60" r="3.3" fill="url(#sph)"/>
<circle cx="277.74" cy="742.23" r="3.3" fill="url(#sph)"/>
<circle cx="280.20" cy="744.86" r="3.3" fill="url(#sph)"/>
<circle cx="282.66" cy="747.49" r="3.3" fill="url(#sph)"/>
<circle cx="285.13" cy="750.12" r="3.3" fill="url(#sph)"/>
<circle cx="284.57" cy="747.40" r="3.3" fill="url(#sph)"/>
<circle cx="293.77" cy="756.32" r="3.3" fill="url(#sph)"/>
<circle cx="296.56" cy="761.34" r="3.3" fill="url(#sph)"/>
<circle cx="300.74" cy="770.82" r="3.3" fill="url(#sph)"/>
<circle cx="228.80" cy="774.45" r="3.3" fill="url(#sph)"/>
<line x1="158.54" y1="656.33" x2="255.57" y2="719.27" stroke="#3ec6f2" stroke-width="2.9"/>
<line x1="255.57" y1="718.95" x2="301.86" y2="768.39" stroke="#f4a460" stroke-width="2.9"/>
<rect x="259.10" y="655.80" width="59.90" height="18.00" fill="#666"/>
<rect x="258.10" y="654.80" width="59.90" height="18.00" fill="#0ff8f8" stroke="#2a6f6f" stroke-width="0.8"/>
<text x="288.05" y="668.00" text-anchor="middle" font-size="12" font-weight="bold" font-style="italic" textLength="39.9" lengthAdjust="spacingAndGlyphs">15MPa</text>
<rect x="134.7" y="642.6" width="188.40" height="156.60" fill="none" stroke="#3a3a3a" stroke-width="1.1"/>
<text transform="translate(114.70,720.90) rotate(-90)" text-anchor="middle" font-size="13" font-weight="bold" class="k">lnV</text>
<text x="228.90" y="831.00" text-anchor="middle" font-size="12" font-weight="bold" class="k" textLength="65" lengthAdjust="spacingAndGlyphs">ln[ln(p<tspan dy="3.0" font-size="10.5">0</tspan><tspan dy="-3.0">/p)]</tspan></text>
<rect x="365.7" y="642.8" width="120.80" height="156.50" fill="#e8f7fd"/>
<rect x="486.50" y="642.8" width="67.70" height="156.50" fill="#fdf3ea"/>
<line x1="486.50" y1="642.8" x2="486.50" y2="799.3" stroke="#bdbdbd" stroke-width="0.9"/>
<line x1="370.46" y1="799.3" x2="370.46" y2="796.3" stroke="#3a3a3a" stroke-width="1"/>
<line x1="390.85" y1="799.3" x2="390.85" y2="796.3" stroke="#3a3a3a" stroke-width="1"/>
<line x1="411.24" y1="799.3" x2="411.24" y2="796.3" stroke="#3a3a3a" stroke-width="1"/>
<line x1="431.63" y1="799.3" x2="431.63" y2="796.3" stroke="#3a3a3a" stroke-width="1"/>
<line x1="452.02" y1="799.3" x2="452.02" y2="796.3" stroke="#3a3a3a" stroke-width="1"/>
<line x1="472.41" y1="799.3" x2="472.41" y2="796.3" stroke="#3a3a3a" stroke-width="1"/>
<line x1="492.80" y1="799.3" x2="492.80" y2="796.3" stroke="#3a3a3a" stroke-width="1"/>
<line x1="513.19" y1="799.3" x2="513.19" y2="796.3" stroke="#3a3a3a" stroke-width="1"/>
<line x1="533.58" y1="799.3" x2="533.58" y2="796.3" stroke="#3a3a3a" stroke-width="1"/>
<text x="366.66" y="810.80" text-anchor="middle" font-size="10" font-weight="bold" class="k">−6</text>
<text x="387.05" y="810.80" text-anchor="middle" font-size="10" font-weight="bold" class="k">−5</text>
<text x="407.44" y="810.80" text-anchor="middle" font-size="10" font-weight="bold" class="k">−4</text>
<text x="427.83" y="810.80" text-anchor="middle" font-size="10" font-weight="bold" class="k">−3</text>
<text x="448.22" y="810.80" text-anchor="middle" font-size="10" font-weight="bold" class="k">−2</text>
<text x="468.61" y="810.80" text-anchor="middle" font-size="10" font-weight="bold" class="k">−1</text>
<text x="489.00" y="810.80" text-anchor="middle" font-size="10" font-weight="bold" class="k">0</text>
<text x="509.39" y="810.80" text-anchor="middle" font-size="10" font-weight="bold" class="k">1</text>
<text x="529.78" y="810.80" text-anchor="middle" font-size="10" font-weight="bold" class="k">2</text>
<text x="550.17" y="810.80" text-anchor="middle" font-size="10" font-weight="bold" class="k">3</text>
<line x1="380.65" y1="799.3" x2="380.65" y2="797.5" stroke="#3a3a3a" stroke-width="1"/>
<line x1="401.05" y1="799.3" x2="401.05" y2="797.5" stroke="#3a3a3a" stroke-width="1"/>
<line x1="421.44" y1="799.3" x2="421.44" y2="797.5" stroke="#3a3a3a" stroke-width="1"/>
<line x1="441.82" y1="799.3" x2="441.82" y2="797.5" stroke="#3a3a3a" stroke-width="1"/>
<line x1="462.22" y1="799.3" x2="462.22" y2="797.5" stroke="#3a3a3a" stroke-width="1"/>
<line x1="482.61" y1="799.3" x2="482.61" y2="797.5" stroke="#3a3a3a" stroke-width="1"/>
<line x1="503.00" y1="799.3" x2="503.00" y2="797.5" stroke="#3a3a3a" stroke-width="1"/>
<line x1="523.38" y1="799.3" x2="523.38" y2="797.5" stroke="#3a3a3a" stroke-width="1"/>
<line x1="543.77" y1="799.3" x2="543.77" y2="797.5" stroke="#3a3a3a" stroke-width="1"/>
<line x1="365.7" y1="781.06" x2="368.7" y2="781.06" stroke="#3a3a3a" stroke-width="1"/>
<text x="361.90" y="784.66" text-anchor="end" font-size="10" font-weight="bold" class="k">−2</text>
<line x1="365.7" y1="744.13" x2="368.7" y2="744.13" stroke="#3a3a3a" stroke-width="1"/>
<text x="361.90" y="747.73" text-anchor="end" font-size="10" font-weight="bold" class="k">−1</text>
<line x1="365.7" y1="707.20" x2="368.7" y2="707.20" stroke="#3a3a3a" stroke-width="1"/>
<text x="361.90" y="710.80" text-anchor="end" font-size="10" font-weight="bold" class="k">0</text>
<line x1="365.7" y1="670.27" x2="368.7" y2="670.27" stroke="#3a3a3a" stroke-width="1"/>
<text x="361.90" y="673.87" text-anchor="end" font-size="10" font-weight="bold" class="k">1</text>
<line x1="365.7" y1="762.60" x2="367.5" y2="762.60" stroke="#3a3a3a" stroke-width="1"/>
<line x1="365.7" y1="725.67" x2="367.5" y2="725.67" stroke="#3a3a3a" stroke-width="1"/>
<line x1="365.7" y1="688.74" x2="367.5" y2="688.74" stroke="#3a3a3a" stroke-width="1"/>
<line x1="365.7" y1="651.81" x2="367.5" y2="651.81" stroke="#3a3a3a" stroke-width="1"/>
<text x="370.60" y="713.30" fill="#45b5e5" stroke="#45b5e5" stroke-width="0.45" font-size="10.1" font-weight="bold" textLength="85.9" lengthAdjust="spacingAndGlyphs">y=-0.4156x-0.6296</text>
<text x="370.60" y="728.00" fill="#45b5e5" stroke="#45b5e5" stroke-width="0.45" font-size="10.1" font-weight="bold" textLength="47.4" lengthAdjust="spacingAndGlyphs">R<tspan dy="-3.9" font-size="6.4">2</tspan><tspan dy="3.9">=0.9995</tspan></text>
<text x="370.60" y="740.60" fill="#45b5e5" stroke="#45b5e5" stroke-width="0.45" font-size="10.1" font-weight="bold" textLength="46.0" lengthAdjust="spacingAndGlyphs">D<tspan dy="2.6" font-size="7.2" font-style="italic">L2</tspan><tspan dy="-2.6">=2.584</tspan></text>
<text x="425.80" y="765.10" fill="#e8a060" stroke="#e8a060" stroke-width="0.45" font-size="10.1" font-weight="bold" textLength="84.8" lengthAdjust="spacingAndGlyphs">y=-0.6781x-0.6368</text>
<text x="425.80" y="779.10" fill="#e8a060" stroke="#e8a060" stroke-width="0.45" font-size="10.1" font-weight="bold" textLength="47.4" lengthAdjust="spacingAndGlyphs">R<tspan dy="-3.9" font-size="6.4">2</tspan><tspan dy="3.9">=0.9773</tspan></text>
<text x="425.80" y="791.40" fill="#e8a060" stroke="#e8a060" stroke-width="0.45" font-size="10.1" font-weight="bold" textLength="46.0" lengthAdjust="spacingAndGlyphs">D<tspan dy="2.6" font-size="7.2" font-style="italic">L1</tspan><tspan dy="-2.6">=2.322</tspan></text>
<circle cx="390.09" cy="653.71" r="3.3" fill="url(#sph)"/>
<circle cx="399.02" cy="660.68" r="3.3" fill="url(#sph)"/>
<circle cx="414.35" cy="670.72" r="3.3" fill="url(#sph)"/>
<circle cx="422.16" cy="676.85" r="3.3" fill="url(#sph)"/>
<circle cx="428.57" cy="681.59" r="3.3" fill="url(#sph)"/>
<circle cx="432.76" cy="685.22" r="3.3" fill="url(#sph)"/>
<circle cx="446.70" cy="694.42" r="3.3" fill="url(#sph)"/>
<circle cx="456.18" cy="701.11" r="3.3" fill="url(#sph)"/>
<circle cx="462.59" cy="706.13" r="3.3" fill="url(#sph)"/>
<circle cx="468.17" cy="710.31" r="3.3" fill="url(#sph)"/>
<circle cx="470.96" cy="714.01" r="3.3" fill="url(#sph)"/>
<circle cx="474.08" cy="716.36" r="3.3" fill="url(#sph)"/>
<circle cx="477.20" cy="718.71" r="3.3" fill="url(#sph)"/>
<circle cx="480.32" cy="721.06" r="3.3" fill="url(#sph)"/>
<circle cx="483.45" cy="723.41" r="3.3" fill="url(#sph)"/>
<circle cx="486.57" cy="725.76" r="3.3" fill="url(#sph)"/>
<circle cx="486.57" cy="722.07" r="3.3" fill="url(#sph)"/>
<circle cx="488.84" cy="724.86" r="3.3" fill="url(#sph)"/>
<circle cx="491.12" cy="727.65" r="3.3" fill="url(#sph)"/>
<circle cx="493.39" cy="730.44" r="3.3" fill="url(#sph)"/>
<circle cx="495.67" cy="733.24" r="3.3" fill="url(#sph)"/>
<circle cx="497.94" cy="736.03" r="3.3" fill="url(#sph)"/>
<circle cx="500.21" cy="738.82" r="3.3" fill="url(#sph)"/>
<circle cx="502.49" cy="741.61" r="3.3" fill="url(#sph)"/>
<circle cx="504.76" cy="744.40" r="3.3" fill="url(#sph)"/>
<circle cx="507.03" cy="747.20" r="3.3" fill="url(#sph)"/>
<circle cx="509.31" cy="749.99" r="3.3" fill="url(#sph)"/>
<circle cx="511.58" cy="752.78" r="3.3" fill="url(#sph)"/>
<circle cx="513.85" cy="755.57" r="3.3" fill="url(#sph)"/>
<circle cx="516.13" cy="758.37" r="3.3" fill="url(#sph)"/>
<circle cx="515.57" cy="754.09" r="3.3" fill="url(#sph)"/>
<circle cx="524.77" cy="764.69" r="3.3" fill="url(#sph)"/>
<circle cx="528.12" cy="770.26" r="3.3" fill="url(#sph)"/>
<circle cx="532.30" cy="782.81" r="3.3" fill="url(#sph)"/>
<circle cx="534.25" cy="786.99" r="3.3" fill="url(#sph)"/>
<line x1="390.09" y1="653.14" x2="486.57" y2="725.76" stroke="#3ec6f2" stroke-width="2.9"/>
<line x1="487.13" y1="723.75" x2="534.25" y2="781.63" stroke="#f4a460" stroke-width="2.9"/>
<rect x="492.30" y="655.80" width="59.40" height="18.00" fill="#666"/>
<rect x="491.30" y="654.80" width="59.40" height="18.00" fill="#0ff8f8" stroke="#2a6f6f" stroke-width="0.8"/>
<text x="521.00" y="668.00" text-anchor="middle" font-size="12" font-weight="bold" font-style="italic" textLength="39.9" lengthAdjust="spacingAndGlyphs">25MPa</text>
<rect x="365.7" y="642.8" width="188.50" height="156.50" fill="none" stroke="#3a3a3a" stroke-width="1.1"/>
<text transform="translate(345.70,721.05) rotate(-90)" text-anchor="middle" font-size="13" font-weight="bold" class="k">lnV</text>
<text x="459.95" y="831.10" text-anchor="middle" font-size="12" font-weight="bold" class="k" textLength="65" lengthAdjust="spacingAndGlyphs">ln[ln(p<tspan dy="3.0" font-size="10.5">0</tspan><tspan dy="-3.0">/p)]</tspan></text>
</svg></body></html>
